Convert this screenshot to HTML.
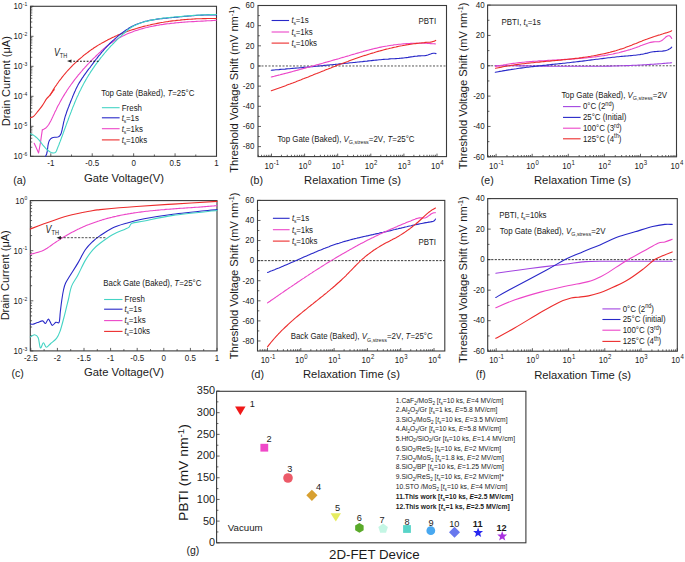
<!DOCTYPE html>
<html><head><meta charset="utf-8"><style>
html,body{margin:0;padding:0;background:#fff;}
svg{display:block;}
text{font-family:"Liberation Sans", sans-serif;fill:#1a1a1a;}
</style></head><body>
<svg width="685" height="562" viewBox="0 0 685 562">
<rect width="685" height="562" fill="#fff"/>
<rect x="30.5" y="6.3" width="186" height="150" fill="none" stroke="#3a3a3a" stroke-width="1.1"/>
<line x1="50.8" y1="156.3" x2="50.8" y2="153.3" stroke="#3a3a3a" stroke-width="0.8" />
<line x1="92.23" y1="156.3" x2="92.23" y2="153.3" stroke="#3a3a3a" stroke-width="0.8" />
<line x1="133.65" y1="156.3" x2="133.65" y2="153.3" stroke="#3a3a3a" stroke-width="0.8" />
<line x1="175.07" y1="156.3" x2="175.07" y2="153.3" stroke="#3a3a3a" stroke-width="0.8" />
<line x1="216.5" y1="156.3" x2="216.5" y2="153.3" stroke="#3a3a3a" stroke-width="0.8" />
<line x1="71.51" y1="156.3" x2="71.51" y2="154.5" stroke="#3a3a3a" stroke-width="0.8" />
<line x1="112.94" y1="156.3" x2="112.94" y2="154.5" stroke="#3a3a3a" stroke-width="0.8" />
<line x1="154.36" y1="156.3" x2="154.36" y2="154.5" stroke="#3a3a3a" stroke-width="0.8" />
<line x1="195.79" y1="156.3" x2="195.79" y2="154.5" stroke="#3a3a3a" stroke-width="0.8" />
<line x1="30.5" y1="156.3" x2="33.5" y2="156.3" stroke="#3a3a3a" stroke-width="0.8" />
<line x1="30.5" y1="126.3" x2="33.5" y2="126.3" stroke="#3a3a3a" stroke-width="0.8" />
<line x1="30.5" y1="96.3" x2="33.5" y2="96.3" stroke="#3a3a3a" stroke-width="0.8" />
<line x1="30.5" y1="66.3" x2="33.5" y2="66.3" stroke="#3a3a3a" stroke-width="0.8" />
<line x1="30.5" y1="36.3" x2="33.5" y2="36.3" stroke="#3a3a3a" stroke-width="0.8" />
<line x1="30.5" y1="6.3" x2="33.5" y2="6.3" stroke="#3a3a3a" stroke-width="0.8" />
<line x1="30.5" y1="147.27" x2="32.3" y2="147.27" stroke="#3a3a3a" stroke-width="0.8" />
<line x1="30.5" y1="141.99" x2="32.3" y2="141.99" stroke="#3a3a3a" stroke-width="0.8" />
<line x1="30.5" y1="138.24" x2="32.3" y2="138.24" stroke="#3a3a3a" stroke-width="0.8" />
<line x1="30.5" y1="135.33" x2="32.3" y2="135.33" stroke="#3a3a3a" stroke-width="0.8" />
<line x1="30.5" y1="132.96" x2="32.3" y2="132.96" stroke="#3a3a3a" stroke-width="0.8" />
<line x1="30.5" y1="130.95" x2="32.3" y2="130.95" stroke="#3a3a3a" stroke-width="0.8" />
<line x1="30.5" y1="129.21" x2="32.3" y2="129.21" stroke="#3a3a3a" stroke-width="0.8" />
<line x1="30.5" y1="127.67" x2="32.3" y2="127.67" stroke="#3a3a3a" stroke-width="0.8" />
<line x1="30.5" y1="117.27" x2="32.3" y2="117.27" stroke="#3a3a3a" stroke-width="0.8" />
<line x1="30.5" y1="111.99" x2="32.3" y2="111.99" stroke="#3a3a3a" stroke-width="0.8" />
<line x1="30.5" y1="108.24" x2="32.3" y2="108.24" stroke="#3a3a3a" stroke-width="0.8" />
<line x1="30.5" y1="105.33" x2="32.3" y2="105.33" stroke="#3a3a3a" stroke-width="0.8" />
<line x1="30.5" y1="102.96" x2="32.3" y2="102.96" stroke="#3a3a3a" stroke-width="0.8" />
<line x1="30.5" y1="100.95" x2="32.3" y2="100.95" stroke="#3a3a3a" stroke-width="0.8" />
<line x1="30.5" y1="99.21" x2="32.3" y2="99.21" stroke="#3a3a3a" stroke-width="0.8" />
<line x1="30.5" y1="97.67" x2="32.3" y2="97.67" stroke="#3a3a3a" stroke-width="0.8" />
<line x1="30.5" y1="87.27" x2="32.3" y2="87.27" stroke="#3a3a3a" stroke-width="0.8" />
<line x1="30.5" y1="81.99" x2="32.3" y2="81.99" stroke="#3a3a3a" stroke-width="0.8" />
<line x1="30.5" y1="78.24" x2="32.3" y2="78.24" stroke="#3a3a3a" stroke-width="0.8" />
<line x1="30.5" y1="75.33" x2="32.3" y2="75.33" stroke="#3a3a3a" stroke-width="0.8" />
<line x1="30.5" y1="72.96" x2="32.3" y2="72.96" stroke="#3a3a3a" stroke-width="0.8" />
<line x1="30.5" y1="70.95" x2="32.3" y2="70.95" stroke="#3a3a3a" stroke-width="0.8" />
<line x1="30.5" y1="69.21" x2="32.3" y2="69.21" stroke="#3a3a3a" stroke-width="0.8" />
<line x1="30.5" y1="67.67" x2="32.3" y2="67.67" stroke="#3a3a3a" stroke-width="0.8" />
<line x1="30.5" y1="57.27" x2="32.3" y2="57.27" stroke="#3a3a3a" stroke-width="0.8" />
<line x1="30.5" y1="51.99" x2="32.3" y2="51.99" stroke="#3a3a3a" stroke-width="0.8" />
<line x1="30.5" y1="48.24" x2="32.3" y2="48.24" stroke="#3a3a3a" stroke-width="0.8" />
<line x1="30.5" y1="45.33" x2="32.3" y2="45.33" stroke="#3a3a3a" stroke-width="0.8" />
<line x1="30.5" y1="42.96" x2="32.3" y2="42.96" stroke="#3a3a3a" stroke-width="0.8" />
<line x1="30.5" y1="40.95" x2="32.3" y2="40.95" stroke="#3a3a3a" stroke-width="0.8" />
<line x1="30.5" y1="39.21" x2="32.3" y2="39.21" stroke="#3a3a3a" stroke-width="0.8" />
<line x1="30.5" y1="37.67" x2="32.3" y2="37.67" stroke="#3a3a3a" stroke-width="0.8" />
<line x1="30.5" y1="27.27" x2="32.3" y2="27.27" stroke="#3a3a3a" stroke-width="0.8" />
<line x1="30.5" y1="21.99" x2="32.3" y2="21.99" stroke="#3a3a3a" stroke-width="0.8" />
<line x1="30.5" y1="18.24" x2="32.3" y2="18.24" stroke="#3a3a3a" stroke-width="0.8" />
<line x1="30.5" y1="15.33" x2="32.3" y2="15.33" stroke="#3a3a3a" stroke-width="0.8" />
<line x1="30.5" y1="12.96" x2="32.3" y2="12.96" stroke="#3a3a3a" stroke-width="0.8" />
<line x1="30.5" y1="10.95" x2="32.3" y2="10.95" stroke="#3a3a3a" stroke-width="0.8" />
<line x1="30.5" y1="9.21" x2="32.3" y2="9.21" stroke="#3a3a3a" stroke-width="0.8" />
<line x1="30.5" y1="7.67" x2="32.3" y2="7.67" stroke="#3a3a3a" stroke-width="0.8" />
<text transform="translate(50.8 165.8) scale(1 1.15)" font-size="8.0" text-anchor="middle" >-1</text>
<text transform="translate(92.23 165.8) scale(1 1.15)" font-size="8.0" text-anchor="middle" >-0.5</text>
<text transform="translate(133.65 165.8) scale(1 1.15)" font-size="8.0" text-anchor="middle" >0</text>
<text transform="translate(175.07 165.8) scale(1 1.15)" font-size="8.0" text-anchor="middle" >0.5</text>
<text transform="translate(216.5 165.8) scale(1 1.15)" font-size="8.0" text-anchor="middle" >1</text>
<text transform="translate(27.3 159.3) scale(1 1.15)" font-size="8.0" text-anchor="end" >10<tspan dy="-2.8" dx="0.4" font-size="5.0">-6</tspan></text>
<text transform="translate(27.3 129.3) scale(1 1.15)" font-size="8.0" text-anchor="end" >10<tspan dy="-2.8" dx="0.4" font-size="5.0">-5</tspan></text>
<text transform="translate(27.3 99.3) scale(1 1.15)" font-size="8.0" text-anchor="end" >10<tspan dy="-2.8" dx="0.4" font-size="5.0">-4</tspan></text>
<text transform="translate(27.3 69.3) scale(1 1.15)" font-size="8.0" text-anchor="end" >10<tspan dy="-2.8" dx="0.4" font-size="5.0">-3</tspan></text>
<text transform="translate(27.3 39.3) scale(1 1.15)" font-size="8.0" text-anchor="end" >10<tspan dy="-2.8" dx="0.4" font-size="5.0">-2</tspan></text>
<text transform="translate(27.3 9.3) scale(1 1.15)" font-size="8.0" text-anchor="end" >10<tspan dy="-2.8" dx="0.4" font-size="5.0">-1</tspan></text>
<text x="9.9" y="81.2" font-size="11" text-anchor="middle" transform="rotate(-90 9.9 81.2)">Drain Current (μA)</text>
<text x="84" y="181.6" font-size="11.25" text-anchor="start" >Gate Voltage(V)</text>
<text x="13.2" y="183.6" font-size="10.6" text-anchor="start" >(a)</text>
<path d="M30.5,117.6 C31.02,117.4 32.35,117.47 33.6,116.4 C34.85,115.33 36.55,113 38,111.2 C39.45,109.4 40.85,107.68 42.3,105.6 C43.75,103.52 45.42,100.43 46.7,98.7 C47.98,96.97 48.75,96.72 50,95.2 C51.25,93.68 53.5,90.53 54.2,89.6" fill="none" stroke="#ec2c2c" stroke-width="1.1" stroke-linejoin="round" stroke-linecap="round"/>
<path d="M50.0,95.3 L50.8,93.9 L51.6,92.6 L52.4,91.2 L53.2,89.9 L54.0,88.6 L54.8,87.3 L55.7,86.0 L56.6,84.8 L57.4,83.5 L58.3,82.3 L59.2,81.0 L60.1,79.8 L61.1,78.6 L62.0,77.4 L63.0,76.2 L63.9,75.0 L64.9,73.8 L65.9,72.7 L66.9,71.5 L67.9,70.4 L68.9,69.3 L70.0,68.2 L71.0,67.1 L72.1,66.0 L73.1,64.9 L74.2,63.9 L75.3,62.8 L76.4,61.8 L77.5,60.8 L78.6,59.7 L79.8,58.8 L80.9,57.8 L82.1,56.8 L83.2,55.8 L84.4,54.9 L85.6,54.0 L86.8,53.1 L88.0,52.2 L89.2,51.3 L90.4,50.4 L91.6,49.5 L92.9,48.7 L94.1,47.8 L95.4,47.0 L96.6,46.2 L97.9,45.4 L99.2,44.6 L100.5,43.9 L101.8,43.1 L103.1,42.4 L104.4,41.7 L105.7,41.0 L107.1,40.3 L108.4,39.6 L109.7,38.9 L111.1,38.2 L112.4,37.6 L113.8,37.0 L115.2,36.3 L116.6,35.7 L117.9,35.1 L119.3,34.5 L120.7,34.0 L122.1,33.4 L123.5,32.9 L125.0,32.3 L126.4,31.8 L127.8,31.3 L129.2,30.8 L130.7,30.3 L132.1,29.8 L133.6,29.4 L135.0,28.9 L136.5,28.5 L137.9,28.0 L139.4,27.6 L140.8,27.2 L142.3,26.8 L143.8,26.4 L145.3,26.0 L146.8,25.7 L148.2,25.3 L149.7,25.0 L151.2,24.6 L152.7,24.3 L154.2,24.0 L155.7,23.7 L157.2,23.4 L158.7,23.1 L160.2,22.8 L161.7,22.5 L163.3,22.3 L164.8,22.0 L166.3,21.8 L167.8,21.6 L169.3,21.3 L170.8,21.1 L172.4,20.9 L173.9,20.7 L175.4,20.6 L176.9,20.4 L178.4,20.2 L180.0,20.1 L181.5,19.9 L183.0,19.8 L184.5,19.6 L186.1,19.5 L187.6,19.4 L189.1,19.3 L190.6,19.2 L192.2,19.1 L193.7,19.0 L195.2,18.9 L196.7,18.8 L198.2,18.8 L199.8,18.7 L201.3,18.7 L202.8,18.6 L204.3,18.6 L205.8,18.6 L207.3,18.5 L208.8,18.5 L210.3,18.5 L211.8,18.5 L213.3,18.5 L214.8,18.5 L216.3,18.5" fill="none" stroke="#ec2c2c" stroke-width="1.1" stroke-linejoin="round" stroke-linecap="round"/>
<path d="M34.2,143.3 L38.6,152.9 L40.5,142.3 L42.3,129.9" fill="none" stroke="#ec46c8" stroke-width="1.1" stroke-linejoin="round" stroke-linecap="round"/>
<path d="M42.3,129.9 L43.7,129.3 L45.0,128.6 L46.1,127.7 L47.1,126.6 L48.0,125.5 L48.9,124.3 L49.6,123.0 L50.3,121.7 L51.0,120.4 L51.7,119.0 L52.3,117.7 L53.0,116.3 L53.6,114.9 L54.3,113.5 L54.9,112.1 L55.6,110.7 L56.3,109.4 L56.9,108.0 L57.6,106.6 L58.3,105.3 L59.1,103.9 L59.8,102.6 L60.5,101.2 L61.3,99.9 L62.0,98.6 L62.8,97.2 L63.6,95.9 L64.4,94.6 L65.2,93.3 L66.0,92.1 L66.8,90.8 L67.6,89.5 L68.5,88.2 L69.3,87.0 L70.2,85.8 L71.1,84.5 L72.0,83.3 L72.9,82.1 L73.8,80.9 L74.7,79.7 L75.6,78.5 L76.5,77.3 L77.5,76.1 L78.4,74.9 L79.4,73.8 L80.4,72.6 L81.4,71.5 L82.4,70.3 L83.3,69.2 L84.4,68.1 L85.4,66.9 L86.4,65.8 L87.4,64.7 L88.5,63.6 L89.5,62.5 L90.6,61.4 L91.6,60.3 L92.7,59.2 L93.8,58.1 L94.9,57.1 L96.0,56.0 L97.1,54.9 L98.2,53.9 L99.3,52.8 L100.4,51.8 L101.5,50.7 L102.7,49.7 L103.8,48.7 L105.0,47.7 L106.2,46.7 L107.4,45.8 L108.6,44.9 L109.8,43.9 L111.0,43.0 L112.3,42.2 L113.5,41.3 L114.8,40.5 L116.1,39.7 L117.4,38.9 L118.7,38.2 L120.0,37.4 L121.3,36.7 L122.7,36.0 L124.0,35.4 L125.4,34.7 L126.8,34.1 L128.1,33.5 L129.5,32.9 L130.9,32.4 L132.3,31.9 L133.8,31.3 L135.2,30.8 L136.6,30.4 L138.1,29.9 L139.5,29.5 L141.0,29.0 L142.4,28.6 L143.9,28.2 L145.4,27.8 L146.8,27.5 L148.3,27.1 L149.8,26.8 L151.3,26.5 L152.7,26.2 L154.2,25.9 L155.7,25.6 L157.2,25.3 L158.7,25.1 L160.2,24.8 L161.7,24.6 L163.2,24.4 L164.7,24.1 L166.2,23.9 L167.8,23.7 L169.3,23.6 L170.8,23.4 L172.3,23.2 L173.8,23.1 L175.3,22.9 L176.8,22.8 L178.4,22.6 L179.9,22.5 L181.4,22.4 L182.9,22.3 L184.5,22.1 L186.0,22.0 L187.5,21.9 L189.0,21.8 L190.6,21.7 L192.1,21.6 L193.6,21.6 L195.1,21.5 L196.6,21.4 L198.2,21.3 L199.7,21.2 L201.2,21.1 L202.7,21.1 L204.2,21.0 L205.8,20.9 L207.3,20.8 L208.8,20.7 L210.3,20.7 L211.8,20.6 L213.3,20.5 L214.8,20.4 L216.3,20.3" fill="none" stroke="#ec46c8" stroke-width="1.1" stroke-linejoin="round" stroke-linecap="round"/>
<path d="M45.4,156.3 L46.1,155.2 L46.6,154.0 L47.0,152.5 L47.3,151.0 L47.5,149.4 L47.7,147.7 L47.9,146.0 L48.2,144.3 L48.5,142.8 L49.0,141.3 L49.7,140.0 L50.6,138.9 L51.8,138.0 L53.1,137.5 L54.7,137.3 L56.3,137.2 L57.8,137.0 L59.0,136.5 L59.9,135.6 L60.7,134.4 L61.3,133.0 L61.7,131.4 L62.1,129.8 L62.4,128.2 L62.8,126.6 L63.1,125.1 L63.4,123.6 L63.7,122.1 L64.1,120.7 L64.4,119.3 L64.8,117.9 L65.2,116.4 L65.7,115.0 L66.2,113.6 L66.6,112.2 L67.1,110.8 L67.7,109.3 L68.2,107.9 L68.8,106.5 L69.3,105.0 L69.9,103.6 L70.4,102.2 L71.0,100.8 L71.6,99.4 L72.2,97.9 L72.7,96.5 L73.3,95.1 L73.9,93.7 L74.5,92.3 L75.1,91.0 L75.7,89.6 L76.3,88.2 L77.0,86.9 L77.7,85.6 L78.4,84.2 L79.2,82.9 L80.0,81.6 L80.8,80.4 L81.6,79.1 L82.4,77.8 L83.3,76.6 L84.1,75.3 L85.0,74.1 L85.9,72.9 L86.8,71.6 L87.7,70.4 L88.6,69.2 L89.6,68.0 L90.5,66.8 L91.4,65.5 L92.3,64.3 L93.2,63.1 L94.1,61.9 L95.0,60.7 L95.9,59.5 L96.9,58.3 L97.8,57.1 L98.7,55.9 L99.7,54.8 L100.7,53.6 L101.6,52.4 L102.6,51.3 L103.6,50.1 L104.6,49.0 L105.6,47.9 L106.6,46.8 L107.7,45.7 L108.7,44.6 L109.8,43.5 L110.9,42.5 L112.0,41.4 L113.1,40.4 L114.3,39.4 L115.4,38.4 L116.6,37.4 L117.7,36.4 L118.9,35.4 L120.1,34.4 L121.3,33.5 L122.5,32.6 L123.7,31.7 L125.0,30.8 L126.2,29.9 L127.5,29.1 L128.7,28.3 L130.0,27.5 L131.3,26.8 L132.7,26.1 L134.0,25.4 L135.4,24.8 L136.8,24.2 L138.1,23.7 L139.5,23.2 L141.0,22.7 L142.4,22.3 L143.8,21.8 L145.3,21.4 L146.8,21.1 L148.2,20.7 L149.7,20.4 L151.2,20.1 L152.7,19.9 L154.2,19.6 L155.7,19.4 L157.2,19.1 L158.8,18.9 L160.3,18.7 L161.8,18.6 L163.3,18.4 L164.9,18.2 L166.4,18.1 L167.9,17.9 L169.5,17.8 L171.0,17.6 L172.5,17.5 L174.0,17.4 L175.6,17.2 L177.1,17.1 L178.6,17.0 L180.1,16.8 L181.6,16.7 L183.1,16.5 L184.6,16.4 L186.1,16.3 L187.6,16.1 L189.1,16.0 L190.6,15.9 L192.1,15.7 L193.6,15.6 L195.1,15.5 L196.6,15.4 L198.1,15.3 L199.6,15.2 L201.1,15.1 L202.6,15.1 L204.1,15.0 L205.6,15.0 L207.1,14.9 L208.6,14.9 L210.1,14.9 L211.7,14.9 L213.2,14.9 L214.8,15.0 L216.3,15.0" fill="none" stroke="#2828c8" stroke-width="1.1" stroke-linejoin="round" stroke-linecap="round"/>
<path d="M30.5,133.8 L32.0,134.4 L33.3,135.1 L34.5,135.9 L35.6,136.7 L36.7,137.6 L37.7,138.6 L38.7,139.7 L39.7,140.9 L40.7,142.2 L41.7,143.5 L42.7,144.8 L43.8,146.1 L44.9,147.4 L46.0,148.6 L47.2,149.8 L48.5,150.8 L49.8,151.7 L51.2,152.4 L52.5,152.9 L53.7,153.0 L54.8,152.8 L55.7,152.1 L56.4,151.0 L56.9,149.7 L57.5,148.3 L58.0,146.9 L58.6,145.5 L59.1,144.2 L59.6,142.8 L60.2,141.4 L60.7,140.0 L61.2,138.6 L61.7,137.2 L62.3,135.8 L62.8,134.4 L63.3,132.9 L63.8,131.5 L64.3,130.1 L64.8,128.7 L65.4,127.3 L65.9,125.9 L66.4,124.4 L66.9,123.0 L67.4,121.6 L68.0,120.2 L68.5,118.8 L69.0,117.3 L69.5,115.9 L70.1,114.5 L70.6,113.1 L71.2,111.7 L71.7,110.2 L72.3,108.8 L72.8,107.4 L73.4,106.0 L74.0,104.6 L74.5,103.2 L75.1,101.8 L75.7,100.4 L76.3,99.0 L76.9,97.6 L77.5,96.3 L78.2,94.9 L78.8,93.5 L79.4,92.1 L80.1,90.8 L80.8,89.4 L81.4,88.1 L82.1,86.7 L82.8,85.4 L83.5,84.1 L84.2,82.7 L85.0,81.4 L85.7,80.1 L86.5,78.8 L87.2,77.5 L88.0,76.2 L88.8,74.9 L89.6,73.7 L90.4,72.4 L91.2,71.1 L92.1,69.9 L92.9,68.6 L93.8,67.4 L94.6,66.1 L95.5,64.9 L96.4,63.7 L97.3,62.5 L98.2,61.3 L99.1,60.1 L100.0,58.9 L100.9,57.7 L101.9,56.5 L102.8,55.3 L103.8,54.2 L104.7,53.0 L105.7,51.9 L106.7,50.7 L107.7,49.6 L108.7,48.5 L109.7,47.4 L110.7,46.2 L111.8,45.1 L112.8,44.0 L113.9,43.0 L114.9,41.9 L116.0,40.8 L117.1,39.7 L118.1,38.7 L119.2,37.6 L120.3,36.6 L121.4,35.6 L122.5,34.5 L123.7,33.5 L124.8,32.5 L125.9,31.5 L127.1,30.6 L128.2,29.6 L129.4,28.7 L130.7,27.8 L131.9,27.0 L133.2,26.3 L134.5,25.6 L135.9,24.9 L137.2,24.3 L138.6,23.8 L140.0,23.2 L141.5,22.7 L142.9,22.3 L144.4,21.8 L145.8,21.4 L147.3,21.1 L148.7,20.7 L150.2,20.4 L151.7,20.1 L153.2,19.8 L154.7,19.5 L156.1,19.2 L157.6,19.0 L159.1,18.7 L160.6,18.5 L162.1,18.3 L163.6,18.1 L165.1,18.0 L166.6,17.8 L168.1,17.6 L169.6,17.5 L171.1,17.3 L172.6,17.2 L174.1,17.0 L175.7,16.9 L177.2,16.8 L178.7,16.6 L180.2,16.5 L181.7,16.4 L183.2,16.2 L184.7,16.1 L186.2,16.0 L187.7,15.9 L189.2,15.8 L190.7,15.6 L192.2,15.5 L193.7,15.4 L195.2,15.3 L196.7,15.2 L198.2,15.1 L199.7,15.1 L201.2,15.0 L202.7,14.9 L204.2,14.8 L205.7,14.8 L207.2,14.7 L208.7,14.7 L210.3,14.6 L211.8,14.6 L213.3,14.5 L214.8,14.5 L216.3,14.5" fill="none" stroke="#44d4c4" stroke-width="1.1" stroke-linejoin="round" stroke-linecap="round"/>
<text transform="translate(101.2 96) scale(1 1.15)" font-size="7.9" text-anchor="start" >Top Gate (Baked), <tspan font-style="italic">T</tspan>=25°C</text>
<line x1="101.9" y1="107.7" x2="119.6" y2="107.7" stroke="#44d4c4" stroke-width="1.1" />
<text transform="translate(121.8 110.5) scale(1 1.15)" font-size="7.9" text-anchor="start" >Fresh</text>
<line x1="101.9" y1="117.8" x2="119.6" y2="117.8" stroke="#2828c8" stroke-width="1.1" />
<text transform="translate(121.8 120.6) scale(1 1.15)" font-size="7.9" text-anchor="start" ><tspan font-style="italic">t</tspan><tspan dy="1.74" font-size="4.9" dx="-0.3">s</tspan><tspan dy="-1.74" dx="-0.2">=1s</tspan></text>
<line x1="101.9" y1="128.7" x2="119.6" y2="128.7" stroke="#ec46c8" stroke-width="1.1" />
<text transform="translate(121.8 131.5) scale(1 1.15)" font-size="7.9" text-anchor="start" ><tspan font-style="italic">t</tspan><tspan dy="1.74" font-size="4.9" dx="-0.3">s</tspan><tspan dy="-1.74" dx="-0.2">=1ks</tspan></text>
<line x1="101.9" y1="139.9" x2="119.6" y2="139.9" stroke="#ec2c2c" stroke-width="1.1" />
<text transform="translate(121.8 142.7) scale(1 1.15)" font-size="7.9" text-anchor="start" ><tspan font-style="italic">t</tspan><tspan dy="1.74" font-size="4.9" dx="-0.3">s</tspan><tspan dy="-1.74" dx="-0.2">=10ks</tspan></text>
<text transform="translate(53.9 55.5) scale(1 1.15)" font-size="7.9" text-anchor="start" ><tspan font-style="italic" font-size="8.8">V</tspan><tspan dy="1.8" font-size="5.6">TH</tspan></text>
<line x1="73.3" y1="61.3" x2="99.4" y2="61.3" stroke="#111" stroke-width="1.1" stroke-dasharray="1.8,1.55"/>
<path d="M67,61.1 L71.5,59.5 L71.5,62.7 Z" fill="#222"/>
<rect x="258" y="5.5" width="188.5" height="151.1" fill="none" stroke="#3a3a3a" stroke-width="1.1"/>
<line x1="271.5" y1="156.6" x2="271.5" y2="153.6" stroke="#3a3a3a" stroke-width="0.8" />
<line x1="304.6" y1="156.6" x2="304.6" y2="153.6" stroke="#3a3a3a" stroke-width="0.8" />
<line x1="337.7" y1="156.6" x2="337.7" y2="153.6" stroke="#3a3a3a" stroke-width="0.8" />
<line x1="370.8" y1="156.6" x2="370.8" y2="153.6" stroke="#3a3a3a" stroke-width="0.8" />
<line x1="403.9" y1="156.6" x2="403.9" y2="153.6" stroke="#3a3a3a" stroke-width="0.8" />
<line x1="437" y1="156.6" x2="437" y2="153.6" stroke="#3a3a3a" stroke-width="0.8" />
<line x1="258.33" y1="156.6" x2="258.33" y2="154.8" stroke="#3a3a3a" stroke-width="0.8" />
<line x1="261.54" y1="156.6" x2="261.54" y2="154.8" stroke="#3a3a3a" stroke-width="0.8" />
<line x1="264.16" y1="156.6" x2="264.16" y2="154.8" stroke="#3a3a3a" stroke-width="0.8" />
<line x1="266.37" y1="156.6" x2="266.37" y2="154.8" stroke="#3a3a3a" stroke-width="0.8" />
<line x1="268.29" y1="156.6" x2="268.29" y2="154.8" stroke="#3a3a3a" stroke-width="0.8" />
<line x1="269.99" y1="156.6" x2="269.99" y2="154.8" stroke="#3a3a3a" stroke-width="0.8" />
<line x1="281.46" y1="156.6" x2="281.46" y2="154.8" stroke="#3a3a3a" stroke-width="0.8" />
<line x1="287.29" y1="156.6" x2="287.29" y2="154.8" stroke="#3a3a3a" stroke-width="0.8" />
<line x1="291.43" y1="156.6" x2="291.43" y2="154.8" stroke="#3a3a3a" stroke-width="0.8" />
<line x1="294.64" y1="156.6" x2="294.64" y2="154.8" stroke="#3a3a3a" stroke-width="0.8" />
<line x1="297.26" y1="156.6" x2="297.26" y2="154.8" stroke="#3a3a3a" stroke-width="0.8" />
<line x1="299.47" y1="156.6" x2="299.47" y2="154.8" stroke="#3a3a3a" stroke-width="0.8" />
<line x1="301.39" y1="156.6" x2="301.39" y2="154.8" stroke="#3a3a3a" stroke-width="0.8" />
<line x1="303.09" y1="156.6" x2="303.09" y2="154.8" stroke="#3a3a3a" stroke-width="0.8" />
<line x1="314.56" y1="156.6" x2="314.56" y2="154.8" stroke="#3a3a3a" stroke-width="0.8" />
<line x1="320.39" y1="156.6" x2="320.39" y2="154.8" stroke="#3a3a3a" stroke-width="0.8" />
<line x1="324.53" y1="156.6" x2="324.53" y2="154.8" stroke="#3a3a3a" stroke-width="0.8" />
<line x1="327.74" y1="156.6" x2="327.74" y2="154.8" stroke="#3a3a3a" stroke-width="0.8" />
<line x1="330.36" y1="156.6" x2="330.36" y2="154.8" stroke="#3a3a3a" stroke-width="0.8" />
<line x1="332.57" y1="156.6" x2="332.57" y2="154.8" stroke="#3a3a3a" stroke-width="0.8" />
<line x1="334.49" y1="156.6" x2="334.49" y2="154.8" stroke="#3a3a3a" stroke-width="0.8" />
<line x1="336.19" y1="156.6" x2="336.19" y2="154.8" stroke="#3a3a3a" stroke-width="0.8" />
<line x1="347.66" y1="156.6" x2="347.66" y2="154.8" stroke="#3a3a3a" stroke-width="0.8" />
<line x1="353.49" y1="156.6" x2="353.49" y2="154.8" stroke="#3a3a3a" stroke-width="0.8" />
<line x1="357.63" y1="156.6" x2="357.63" y2="154.8" stroke="#3a3a3a" stroke-width="0.8" />
<line x1="360.84" y1="156.6" x2="360.84" y2="154.8" stroke="#3a3a3a" stroke-width="0.8" />
<line x1="363.46" y1="156.6" x2="363.46" y2="154.8" stroke="#3a3a3a" stroke-width="0.8" />
<line x1="365.67" y1="156.6" x2="365.67" y2="154.8" stroke="#3a3a3a" stroke-width="0.8" />
<line x1="367.59" y1="156.6" x2="367.59" y2="154.8" stroke="#3a3a3a" stroke-width="0.8" />
<line x1="369.29" y1="156.6" x2="369.29" y2="154.8" stroke="#3a3a3a" stroke-width="0.8" />
<line x1="380.76" y1="156.6" x2="380.76" y2="154.8" stroke="#3a3a3a" stroke-width="0.8" />
<line x1="386.59" y1="156.6" x2="386.59" y2="154.8" stroke="#3a3a3a" stroke-width="0.8" />
<line x1="390.73" y1="156.6" x2="390.73" y2="154.8" stroke="#3a3a3a" stroke-width="0.8" />
<line x1="393.94" y1="156.6" x2="393.94" y2="154.8" stroke="#3a3a3a" stroke-width="0.8" />
<line x1="396.56" y1="156.6" x2="396.56" y2="154.8" stroke="#3a3a3a" stroke-width="0.8" />
<line x1="398.77" y1="156.6" x2="398.77" y2="154.8" stroke="#3a3a3a" stroke-width="0.8" />
<line x1="400.69" y1="156.6" x2="400.69" y2="154.8" stroke="#3a3a3a" stroke-width="0.8" />
<line x1="402.39" y1="156.6" x2="402.39" y2="154.8" stroke="#3a3a3a" stroke-width="0.8" />
<line x1="413.86" y1="156.6" x2="413.86" y2="154.8" stroke="#3a3a3a" stroke-width="0.8" />
<line x1="419.69" y1="156.6" x2="419.69" y2="154.8" stroke="#3a3a3a" stroke-width="0.8" />
<line x1="423.83" y1="156.6" x2="423.83" y2="154.8" stroke="#3a3a3a" stroke-width="0.8" />
<line x1="427.04" y1="156.6" x2="427.04" y2="154.8" stroke="#3a3a3a" stroke-width="0.8" />
<line x1="429.66" y1="156.6" x2="429.66" y2="154.8" stroke="#3a3a3a" stroke-width="0.8" />
<line x1="431.87" y1="156.6" x2="431.87" y2="154.8" stroke="#3a3a3a" stroke-width="0.8" />
<line x1="433.79" y1="156.6" x2="433.79" y2="154.8" stroke="#3a3a3a" stroke-width="0.8" />
<line x1="435.49" y1="156.6" x2="435.49" y2="154.8" stroke="#3a3a3a" stroke-width="0.8" />
<line x1="258" y1="146.62" x2="261" y2="146.62" stroke="#3a3a3a" stroke-width="0.8" />
<line x1="258" y1="126.46" x2="261" y2="126.46" stroke="#3a3a3a" stroke-width="0.8" />
<line x1="258" y1="106.3" x2="261" y2="106.3" stroke="#3a3a3a" stroke-width="0.8" />
<line x1="258" y1="86.14" x2="261" y2="86.14" stroke="#3a3a3a" stroke-width="0.8" />
<line x1="258" y1="65.98" x2="261" y2="65.98" stroke="#3a3a3a" stroke-width="0.8" />
<line x1="258" y1="45.82" x2="261" y2="45.82" stroke="#3a3a3a" stroke-width="0.8" />
<line x1="258" y1="25.66" x2="261" y2="25.66" stroke="#3a3a3a" stroke-width="0.8" />
<line x1="258" y1="5.5" x2="261" y2="5.5" stroke="#3a3a3a" stroke-width="0.8" />
<line x1="258" y1="136.54" x2="259.8" y2="136.54" stroke="#3a3a3a" stroke-width="0.8" />
<line x1="258" y1="116.38" x2="259.8" y2="116.38" stroke="#3a3a3a" stroke-width="0.8" />
<line x1="258" y1="96.22" x2="259.8" y2="96.22" stroke="#3a3a3a" stroke-width="0.8" />
<line x1="258" y1="76.06" x2="259.8" y2="76.06" stroke="#3a3a3a" stroke-width="0.8" />
<line x1="258" y1="55.9" x2="259.8" y2="55.9" stroke="#3a3a3a" stroke-width="0.8" />
<line x1="258" y1="35.74" x2="259.8" y2="35.74" stroke="#3a3a3a" stroke-width="0.8" />
<line x1="258" y1="15.58" x2="259.8" y2="15.58" stroke="#3a3a3a" stroke-width="0.8" />
<text transform="translate(254.4 149.42) scale(1 1.15)" font-size="8.0" text-anchor="end" >-80</text>
<text transform="translate(254.4 129.26) scale(1 1.15)" font-size="8.0" text-anchor="end" >-60</text>
<text transform="translate(254.4 109.1) scale(1 1.15)" font-size="8.0" text-anchor="end" >-40</text>
<text transform="translate(254.4 88.94) scale(1 1.15)" font-size="8.0" text-anchor="end" >-20</text>
<text transform="translate(254.4 68.78) scale(1 1.15)" font-size="8.0" text-anchor="end" >0</text>
<text transform="translate(254.4 48.62) scale(1 1.15)" font-size="8.0" text-anchor="end" >20</text>
<text transform="translate(254.4 28.46) scale(1 1.15)" font-size="8.0" text-anchor="end" >40</text>
<text transform="translate(254.4 8.3) scale(1 1.15)" font-size="8.0" text-anchor="end" >60</text>
<text transform="translate(271.8 168.5) scale(1 1.15)" font-size="8.0" text-anchor="middle" >10<tspan dy="-3.4" dx="0.5" font-size="6.0">-1</tspan></text>
<text transform="translate(304.9 168.5) scale(1 1.15)" font-size="8.0" text-anchor="middle" >10<tspan dy="-3.4" dx="0.5" font-size="6.0">0</tspan></text>
<text transform="translate(338 168.5) scale(1 1.15)" font-size="8.0" text-anchor="middle" >10<tspan dy="-3.4" dx="0.5" font-size="6.0">1</tspan></text>
<text transform="translate(371.1 168.5) scale(1 1.15)" font-size="8.0" text-anchor="middle" >10<tspan dy="-3.4" dx="0.5" font-size="6.0">2</tspan></text>
<text transform="translate(404.2 168.5) scale(1 1.15)" font-size="8.0" text-anchor="middle" >10<tspan dy="-3.4" dx="0.5" font-size="6.0">3</tspan></text>
<text transform="translate(437.3 168.5) scale(1 1.15)" font-size="8.0" text-anchor="middle" >10<tspan dy="-3.4" dx="0.5" font-size="6.0">4</tspan></text>
<line x1="258" y1="65.98" x2="446.5" y2="65.98" stroke="#555" stroke-width="1.0" stroke-dasharray="2,1.5"/>
<text x="237.8" y="89.4" font-size="11.1" text-anchor="middle" transform="rotate(-90 237.8 89.4)">Threshold Voltage Shift (mV nm<tspan dy="-4" font-size="7.2">-1</tspan><tspan dy="4">)</tspan></text>
<text x="304.1" y="184.2" font-size="11.25" text-anchor="start" >Relaxation Time (s)</text>
<text x="250" y="183.8" font-size="10.6" text-anchor="start" >(b)</text>
<text transform="translate(418.6 24.2) scale(1 1.15)" font-size="7.9" text-anchor="start" >PBTI</text>
<text transform="translate(277.4 141.5) scale(1 1.15)" font-size="7.9" text-anchor="start" >Top Gate (Baked), <tspan font-style="italic">V</tspan><tspan dy="1.98" font-size="5.37">G,stress</tspan><tspan dy="-1.98">=2V</tspan>, <tspan font-style="italic">T</tspan>=25°C</text>
<line x1="271.6" y1="20.5" x2="289.1" y2="20.5" stroke="#2828c8" stroke-width="1.1" />
<text transform="translate(291.6 23.3) scale(1 1.15)" font-size="7.9" text-anchor="start" ><tspan font-style="italic">t</tspan><tspan dy="1.74" font-size="4.9" dx="-0.3">s</tspan><tspan dy="-1.74" dx="-0.2">=1s</tspan></text>
<line x1="271.6" y1="32" x2="289.1" y2="32" stroke="#ec46c8" stroke-width="1.1" />
<text transform="translate(291.6 34.8) scale(1 1.15)" font-size="7.9" text-anchor="start" ><tspan font-style="italic">t</tspan><tspan dy="1.74" font-size="4.9" dx="-0.3">s</tspan><tspan dy="-1.74" dx="-0.2">=1ks</tspan></text>
<line x1="271.6" y1="43.1" x2="289.1" y2="43.1" stroke="#ec2c2c" stroke-width="1.1" />
<text transform="translate(291.6 45.9) scale(1 1.15)" font-size="7.9" text-anchor="start" ><tspan font-style="italic">t</tspan><tspan dy="1.74" font-size="4.9" dx="-0.3">s</tspan><tspan dy="-1.74" dx="-0.2">=10ks</tspan></text>
<path d="M271.3,70.2 L272.8,70.1 L274.3,70.0 L275.9,69.8 L277.4,69.7 L278.9,69.6 L280.4,69.4 L281.9,69.3 L283.5,69.2 L285.0,69.1 L286.5,68.9 L288.0,68.8 L289.6,68.7 L291.1,68.5 L292.6,68.4 L294.1,68.3 L295.6,68.1 L297.2,68.0 L298.7,67.9 L300.2,67.7 L301.7,67.6 L303.2,67.4 L304.8,67.3 L306.3,67.2 L307.8,67.0 L309.3,66.9 L310.8,66.7 L312.4,66.6 L313.9,66.5 L315.4,66.3 L316.9,66.2 L318.4,66.0 L320.0,65.9 L321.5,65.7 L323.0,65.6 L324.5,65.4 L326.0,65.3 L327.5,65.1 L329.1,65.0 L330.6,64.8 L332.1,64.7 L333.6,64.5 L335.1,64.4 L336.7,64.2 L338.2,64.1 L339.7,63.9 L341.2,63.8 L342.7,63.6 L344.3,63.5 L345.8,63.3 L347.3,63.2 L348.8,63.0 L350.3,62.8 L351.8,62.7 L353.4,62.5 L354.9,62.4 L356.4,62.2 L357.9,62.0 L359.4,61.9 L360.9,61.7 L362.5,61.6 L364.0,61.4 L365.5,61.2 L367.0,61.1 L368.5,60.9 L370.1,60.8 L371.6,60.6 L373.1,60.4 L374.6,60.3 L376.1,60.1 L377.6,60.0 L379.2,59.8 L380.7,59.7 L382.2,59.5 L383.7,59.4 L385.2,59.3 L386.8,59.2 L388.3,59.1 L389.8,58.9 L391.3,58.8 L392.9,58.7 L394.4,58.7 L395.9,58.6 L397.4,58.5 L399.0,58.4 L400.5,58.2 L402.0,58.1 L403.5,58.0 L405.0,57.8 L406.5,57.6 L408.0,57.4 L409.5,57.1 L411.1,56.9 L412.6,56.7 L414.1,56.4 L415.6,56.2 L417.1,56.1 L418.6,55.9 L420.2,55.9 L421.7,55.8 L423.3,55.7 L424.8,55.6 L426.3,55.4 L427.8,55.0 L429.2,54.5 L430.6,54.0 L431.9,53.5 L433.3,53.2 L434.6,53.2 L436.0,53.6" fill="none" stroke="#2828c8" stroke-width="1.1" stroke-linejoin="round" stroke-linecap="round"/>
<path d="M271.3,77.0 L272.8,76.6 L274.2,76.3 L275.7,75.9 L277.2,75.5 L278.7,75.1 L280.1,74.8 L281.6,74.4 L283.1,74.0 L284.5,73.6 L286.0,73.2 L287.5,72.9 L288.9,72.5 L290.4,72.1 L291.9,71.7 L293.3,71.3 L294.8,70.9 L296.3,70.5 L297.7,70.1 L299.2,69.7 L300.6,69.3 L302.1,68.9 L303.6,68.5 L305.0,68.1 L306.5,67.7 L308.0,67.3 L309.4,66.9 L310.9,66.5 L312.4,66.1 L313.8,65.7 L315.3,65.3 L316.7,64.9 L318.2,64.5 L319.7,64.1 L321.1,63.7 L322.6,63.3 L324.0,62.8 L325.5,62.4 L327.0,62.0 L328.4,61.6 L329.9,61.2 L331.3,60.8 L332.8,60.3 L334.2,59.9 L335.7,59.5 L337.2,59.1 L338.6,58.7 L340.1,58.2 L341.5,57.8 L343.0,57.4 L344.4,57.0 L345.9,56.5 L347.4,56.1 L348.8,55.7 L350.3,55.2 L351.7,54.8 L353.2,54.4 L354.6,54.0 L356.1,53.5 L357.6,53.1 L359.0,52.7 L360.5,52.3 L361.9,51.9 L363.4,51.4 L364.9,51.0 L366.3,50.6 L367.8,50.2 L369.2,49.9 L370.7,49.5 L372.2,49.1 L373.6,48.7 L375.1,48.4 L376.6,48.1 L378.1,47.7 L379.5,47.4 L381.0,47.1 L382.5,46.8 L384.0,46.5 L385.5,46.2 L387.0,46.0 L388.5,45.7 L390.0,45.5 L391.4,45.3 L392.9,45.1 L394.4,44.8 L395.9,44.7 L397.4,44.5 L398.9,44.3 L400.5,44.2 L402.0,44.0 L403.5,43.9 L405.0,43.8 L406.5,43.6 L408.0,43.6 L409.5,43.5 L411.0,43.4 L412.5,43.3 L414.0,43.3 L415.6,43.3 L417.1,43.2 L418.6,43.2 L420.1,43.2 L421.6,43.2 L423.1,43.3 L424.7,43.3 L426.2,43.3 L427.7,43.4 L429.2,43.5 L430.7,43.6 L432.3,43.7 L433.8,43.8 L435.3,43.9" fill="none" stroke="#ec46c8" stroke-width="1.1" stroke-linejoin="round" stroke-linecap="round"/>
<path d="M271.3,90.8 L272.7,90.3 L274.2,89.8 L275.6,89.3 L277.0,88.8 L278.5,88.3 L279.9,87.8 L281.3,87.3 L282.7,86.7 L284.2,86.2 L285.6,85.7 L287.0,85.1 L288.4,84.6 L289.9,84.1 L291.3,83.5 L292.7,83.0 L294.1,82.4 L295.5,81.9 L296.9,81.3 L298.4,80.8 L299.8,80.2 L301.2,79.7 L302.6,79.1 L304.0,78.6 L305.4,78.0 L306.8,77.4 L308.3,76.9 L309.7,76.3 L311.1,75.7 L312.5,75.2 L313.9,74.6 L315.3,74.0 L316.7,73.5 L318.1,72.9 L319.5,72.4 L321.0,71.8 L322.4,71.2 L323.8,70.7 L325.2,70.1 L326.6,69.5 L328.0,69.0 L329.4,68.4 L330.8,67.9 L332.3,67.3 L333.7,66.7 L335.1,66.2 L336.5,65.6 L337.9,65.1 L339.3,64.6 L340.8,64.0 L342.2,63.5 L343.6,62.9 L345.0,62.4 L346.4,61.9 L347.9,61.4 L349.3,60.8 L350.7,60.3 L352.2,59.8 L353.6,59.3 L355.0,58.8 L356.4,58.3 L357.9,57.8 L359.3,57.3 L360.7,56.8 L362.2,56.3 L363.6,55.8 L365.1,55.4 L366.5,54.9 L368.0,54.4 L369.4,54.0 L370.9,53.5 L372.3,53.1 L373.8,52.7 L375.2,52.2 L376.7,51.8 L378.1,51.4 L379.6,51.0 L381.1,50.6 L382.5,50.2 L384.0,49.8 L385.5,49.4 L386.9,49.0 L388.4,48.7 L389.9,48.3 L391.4,48.0 L392.9,47.6 L394.4,47.3 L395.9,47.0 L397.3,46.6 L398.8,46.3 L400.3,46.0 L401.8,45.8 L403.3,45.5 L404.8,45.2 L406.3,44.9 L407.8,44.7 L409.3,44.4 L410.8,44.2 L412.3,44.0 L413.8,43.8 L415.3,43.6 L416.9,43.4 L418.4,43.2 L419.9,43.0 L421.4,42.9 L422.8,42.7 L424.3,42.6 L425.8,42.4 L427.3,42.3 L428.8,42.2 L430.3,42.1 L431.7,41.9 L433.1,41.5 L434.5,41.1 L435.7,40.4" fill="none" stroke="#ec2c2c" stroke-width="1.1" stroke-linejoin="round" stroke-linecap="round"/>
<rect x="487.6" y="5.1" width="188.9" height="151.7" fill="none" stroke="#3a3a3a" stroke-width="1.1"/>
<line x1="496.1" y1="156.8" x2="496.1" y2="153.8" stroke="#3a3a3a" stroke-width="0.8" />
<line x1="532.2" y1="156.8" x2="532.2" y2="153.8" stroke="#3a3a3a" stroke-width="0.8" />
<line x1="568.3" y1="156.8" x2="568.3" y2="153.8" stroke="#3a3a3a" stroke-width="0.8" />
<line x1="604.4" y1="156.8" x2="604.4" y2="153.8" stroke="#3a3a3a" stroke-width="0.8" />
<line x1="640.5" y1="156.8" x2="640.5" y2="153.8" stroke="#3a3a3a" stroke-width="0.8" />
<line x1="676.6" y1="156.8" x2="676.6" y2="153.8" stroke="#3a3a3a" stroke-width="0.8" />
<line x1="488.09" y1="156.8" x2="488.09" y2="155" stroke="#3a3a3a" stroke-width="0.8" />
<line x1="490.51" y1="156.8" x2="490.51" y2="155" stroke="#3a3a3a" stroke-width="0.8" />
<line x1="492.6" y1="156.8" x2="492.6" y2="155" stroke="#3a3a3a" stroke-width="0.8" />
<line x1="494.45" y1="156.8" x2="494.45" y2="155" stroke="#3a3a3a" stroke-width="0.8" />
<line x1="506.97" y1="156.8" x2="506.97" y2="155" stroke="#3a3a3a" stroke-width="0.8" />
<line x1="513.32" y1="156.8" x2="513.32" y2="155" stroke="#3a3a3a" stroke-width="0.8" />
<line x1="517.83" y1="156.8" x2="517.83" y2="155" stroke="#3a3a3a" stroke-width="0.8" />
<line x1="521.33" y1="156.8" x2="521.33" y2="155" stroke="#3a3a3a" stroke-width="0.8" />
<line x1="524.19" y1="156.8" x2="524.19" y2="155" stroke="#3a3a3a" stroke-width="0.8" />
<line x1="526.61" y1="156.8" x2="526.61" y2="155" stroke="#3a3a3a" stroke-width="0.8" />
<line x1="528.7" y1="156.8" x2="528.7" y2="155" stroke="#3a3a3a" stroke-width="0.8" />
<line x1="530.55" y1="156.8" x2="530.55" y2="155" stroke="#3a3a3a" stroke-width="0.8" />
<line x1="543.07" y1="156.8" x2="543.07" y2="155" stroke="#3a3a3a" stroke-width="0.8" />
<line x1="549.42" y1="156.8" x2="549.42" y2="155" stroke="#3a3a3a" stroke-width="0.8" />
<line x1="553.93" y1="156.8" x2="553.93" y2="155" stroke="#3a3a3a" stroke-width="0.8" />
<line x1="557.43" y1="156.8" x2="557.43" y2="155" stroke="#3a3a3a" stroke-width="0.8" />
<line x1="560.29" y1="156.8" x2="560.29" y2="155" stroke="#3a3a3a" stroke-width="0.8" />
<line x1="562.71" y1="156.8" x2="562.71" y2="155" stroke="#3a3a3a" stroke-width="0.8" />
<line x1="564.8" y1="156.8" x2="564.8" y2="155" stroke="#3a3a3a" stroke-width="0.8" />
<line x1="566.65" y1="156.8" x2="566.65" y2="155" stroke="#3a3a3a" stroke-width="0.8" />
<line x1="579.17" y1="156.8" x2="579.17" y2="155" stroke="#3a3a3a" stroke-width="0.8" />
<line x1="585.52" y1="156.8" x2="585.52" y2="155" stroke="#3a3a3a" stroke-width="0.8" />
<line x1="590.03" y1="156.8" x2="590.03" y2="155" stroke="#3a3a3a" stroke-width="0.8" />
<line x1="593.53" y1="156.8" x2="593.53" y2="155" stroke="#3a3a3a" stroke-width="0.8" />
<line x1="596.39" y1="156.8" x2="596.39" y2="155" stroke="#3a3a3a" stroke-width="0.8" />
<line x1="598.81" y1="156.8" x2="598.81" y2="155" stroke="#3a3a3a" stroke-width="0.8" />
<line x1="600.9" y1="156.8" x2="600.9" y2="155" stroke="#3a3a3a" stroke-width="0.8" />
<line x1="602.75" y1="156.8" x2="602.75" y2="155" stroke="#3a3a3a" stroke-width="0.8" />
<line x1="615.27" y1="156.8" x2="615.27" y2="155" stroke="#3a3a3a" stroke-width="0.8" />
<line x1="621.62" y1="156.8" x2="621.62" y2="155" stroke="#3a3a3a" stroke-width="0.8" />
<line x1="626.13" y1="156.8" x2="626.13" y2="155" stroke="#3a3a3a" stroke-width="0.8" />
<line x1="629.63" y1="156.8" x2="629.63" y2="155" stroke="#3a3a3a" stroke-width="0.8" />
<line x1="632.49" y1="156.8" x2="632.49" y2="155" stroke="#3a3a3a" stroke-width="0.8" />
<line x1="634.91" y1="156.8" x2="634.91" y2="155" stroke="#3a3a3a" stroke-width="0.8" />
<line x1="637" y1="156.8" x2="637" y2="155" stroke="#3a3a3a" stroke-width="0.8" />
<line x1="638.85" y1="156.8" x2="638.85" y2="155" stroke="#3a3a3a" stroke-width="0.8" />
<line x1="651.37" y1="156.8" x2="651.37" y2="155" stroke="#3a3a3a" stroke-width="0.8" />
<line x1="657.72" y1="156.8" x2="657.72" y2="155" stroke="#3a3a3a" stroke-width="0.8" />
<line x1="662.23" y1="156.8" x2="662.23" y2="155" stroke="#3a3a3a" stroke-width="0.8" />
<line x1="665.73" y1="156.8" x2="665.73" y2="155" stroke="#3a3a3a" stroke-width="0.8" />
<line x1="668.59" y1="156.8" x2="668.59" y2="155" stroke="#3a3a3a" stroke-width="0.8" />
<line x1="671.01" y1="156.8" x2="671.01" y2="155" stroke="#3a3a3a" stroke-width="0.8" />
<line x1="673.1" y1="156.8" x2="673.1" y2="155" stroke="#3a3a3a" stroke-width="0.8" />
<line x1="674.95" y1="156.8" x2="674.95" y2="155" stroke="#3a3a3a" stroke-width="0.8" />
<line x1="487.6" y1="156.8" x2="490.6" y2="156.8" stroke="#3a3a3a" stroke-width="0.8" />
<line x1="487.6" y1="126.46" x2="490.6" y2="126.46" stroke="#3a3a3a" stroke-width="0.8" />
<line x1="487.6" y1="96.12" x2="490.6" y2="96.12" stroke="#3a3a3a" stroke-width="0.8" />
<line x1="487.6" y1="65.78" x2="490.6" y2="65.78" stroke="#3a3a3a" stroke-width="0.8" />
<line x1="487.6" y1="35.44" x2="490.6" y2="35.44" stroke="#3a3a3a" stroke-width="0.8" />
<line x1="487.6" y1="5.1" x2="490.6" y2="5.1" stroke="#3a3a3a" stroke-width="0.8" />
<line x1="487.6" y1="141.63" x2="489.4" y2="141.63" stroke="#3a3a3a" stroke-width="0.8" />
<line x1="487.6" y1="111.29" x2="489.4" y2="111.29" stroke="#3a3a3a" stroke-width="0.8" />
<line x1="487.6" y1="80.95" x2="489.4" y2="80.95" stroke="#3a3a3a" stroke-width="0.8" />
<line x1="487.6" y1="50.61" x2="489.4" y2="50.61" stroke="#3a3a3a" stroke-width="0.8" />
<line x1="487.6" y1="20.27" x2="489.4" y2="20.27" stroke="#3a3a3a" stroke-width="0.8" />
<text transform="translate(484.7 159.6) scale(1 1.15)" font-size="8.0" text-anchor="end" >-60</text>
<text transform="translate(484.7 129.26) scale(1 1.15)" font-size="8.0" text-anchor="end" >-40</text>
<text transform="translate(484.7 98.92) scale(1 1.15)" font-size="8.0" text-anchor="end" >-20</text>
<text transform="translate(484.7 68.58) scale(1 1.15)" font-size="8.0" text-anchor="end" >0</text>
<text transform="translate(484.7 38.24) scale(1 1.15)" font-size="8.0" text-anchor="end" >20</text>
<text transform="translate(484.7 7.9) scale(1 1.15)" font-size="8.0" text-anchor="end" >40</text>
<text transform="translate(496.4 168.8) scale(1 1.15)" font-size="8.0" text-anchor="middle" >10<tspan dy="-3.4" dx="0.5" font-size="6.0">-1</tspan></text>
<text transform="translate(532.5 168.8) scale(1 1.15)" font-size="8.0" text-anchor="middle" >10<tspan dy="-3.4" dx="0.5" font-size="6.0">0</tspan></text>
<text transform="translate(568.6 168.8) scale(1 1.15)" font-size="8.0" text-anchor="middle" >10<tspan dy="-3.4" dx="0.5" font-size="6.0">1</tspan></text>
<text transform="translate(604.7 168.8) scale(1 1.15)" font-size="8.0" text-anchor="middle" >10<tspan dy="-3.4" dx="0.5" font-size="6.0">2</tspan></text>
<text transform="translate(640.8 168.8) scale(1 1.15)" font-size="8.0" text-anchor="middle" >10<tspan dy="-3.4" dx="0.5" font-size="6.0">3</tspan></text>
<text transform="translate(676.9 168.8) scale(1 1.15)" font-size="8.0" text-anchor="middle" >10<tspan dy="-3.4" dx="0.5" font-size="6.0">4</tspan></text>
<line x1="487.6" y1="65.78" x2="676.5" y2="65.78" stroke="#444" stroke-width="0.9" stroke-dasharray="2,1.5"/>
<text x="466.7" y="85.9" font-size="11.1" text-anchor="middle" transform="rotate(-90 466.7 85.9)">Threshold Voltage Shift (mV nm<tspan dy="-4" font-size="7.2">-1</tspan><tspan dy="4">)</tspan></text>
<text x="534" y="184.3" font-size="11.25" text-anchor="start" >Relaxation Time (s)</text>
<text x="480.8" y="184" font-size="10.6" text-anchor="start" >(e)</text>
<text transform="translate(501.6 25) scale(1 1.15)" font-size="7.9" text-anchor="start" >PBTI, <tspan font-style="italic">t</tspan><tspan dy="1.74" font-size="4.9" dx="-0.3">s</tspan><tspan dy="-1.74" dx="-0.2">=1s</tspan></text>
<text transform="translate(561.4 97.6) scale(1 1.15)" font-size="7.9" text-anchor="start" >Top Gate (Baked), <tspan font-style="italic">V</tspan><tspan dy="1.98" font-size="5.37">G,stress</tspan><tspan dy="-1.98">=2V</tspan></text>
<line x1="563" y1="106.6" x2="580.6" y2="106.6" stroke="#a244e0" stroke-width="1.1" />
<text transform="translate(582.9 109.4) scale(1 1.15)" font-size="7.9" text-anchor="start" >0°C (2<tspan dy="-3" font-size="5.53">nd</tspan><tspan dy="3">)</tspan></text>
<line x1="563" y1="117.4" x2="580.6" y2="117.4" stroke="#2828c8" stroke-width="1.1" />
<text transform="translate(582.9 120.2) scale(1 1.15)" font-size="7.9" text-anchor="start" >25°C (Initial)</text>
<line x1="563" y1="128.2" x2="580.6" y2="128.2" stroke="#ec46c8" stroke-width="1.1" />
<text transform="translate(582.9 131) scale(1 1.15)" font-size="7.9" text-anchor="start" >100°C (3<tspan dy="-3" font-size="5.53">rd</tspan><tspan dy="3">)</tspan></text>
<line x1="563" y1="138.8" x2="580.6" y2="138.8" stroke="#ec2c2c" stroke-width="1.1" />
<text transform="translate(582.9 141.6) scale(1 1.15)" font-size="7.9" text-anchor="start" >125°C (4<tspan dy="-3" font-size="5.53">th</tspan><tspan dy="3">)</tspan></text>
<path d="M495.3,65.8 L496.8,65.8 L498.3,65.8 L499.9,65.8 L501.4,65.8 L502.9,65.8 L504.4,65.8 L505.9,65.8 L507.5,65.8 L509.0,65.8 L510.5,65.8 L512.0,65.8 L513.5,65.8 L515.1,65.8 L516.6,65.8 L518.1,65.9 L519.6,65.9 L521.1,65.9 L522.7,65.9 L524.2,65.9 L525.7,65.9 L527.2,65.9 L528.8,65.9 L530.3,66.0 L531.8,66.0 L533.3,66.0 L534.8,66.0 L536.4,66.0 L537.9,66.0 L539.4,66.0 L540.9,66.1 L542.5,66.1 L544.0,66.1 L545.5,66.1 L547.0,66.1 L548.5,66.1 L550.1,66.2 L551.6,66.2 L553.1,66.2 L554.6,66.2 L556.2,66.2 L557.7,66.2 L559.2,66.2 L560.7,66.2 L562.3,66.3 L563.8,66.3 L565.3,66.3 L566.8,66.3 L568.3,66.3 L569.9,66.3 L571.4,66.3 L572.9,66.3 L574.4,66.3 L576.0,66.3 L577.5,66.3 L579.0,66.3 L580.5,66.3 L582.1,66.3 L583.6,66.3 L585.1,66.3 L586.6,66.3 L588.1,66.3 L589.7,66.3 L591.2,66.3 L592.7,66.3 L594.2,66.3 L595.8,66.3 L597.3,66.3 L598.8,66.2 L600.3,66.2 L601.8,66.2 L603.4,66.2 L604.9,66.2 L606.4,66.1 L607.9,66.1 L609.5,66.1 L611.0,66.1 L612.5,66.0 L614.0,66.0 L615.5,66.0 L617.1,65.9 L618.6,65.9 L620.1,65.8 L621.6,65.8 L623.1,65.7 L624.7,65.7 L626.2,65.6 L627.7,65.6 L629.2,65.5 L630.7,65.5 L632.3,65.4 L633.8,65.3 L635.3,65.3 L636.8,65.2 L638.3,65.1 L639.9,65.0 L641.4,65.0 L642.9,64.9 L644.4,64.8 L645.9,64.7 L647.4,64.6 L649.0,64.5 L650.5,64.4 L652.0,64.3 L653.5,64.2 L655.0,64.1 L656.5,64.0 L658.1,63.9 L659.6,63.8 L661.1,63.7 L662.6,63.5 L664.1,63.4 L665.6,63.3 L667.2,63.1 L668.7,63.0 L670.2,62.9 L671.7,62.7" fill="none" stroke="#a244e0" stroke-width="1.1" stroke-linejoin="round" stroke-linecap="round"/>
<path d="M495.3,72.3 L496.8,72.0 L498.3,71.7 L499.8,71.4 L501.3,71.2 L502.8,70.9 L504.3,70.6 L505.8,70.4 L507.3,70.1 L508.8,69.9 L510.3,69.7 L511.8,69.4 L513.3,69.2 L514.8,69.0 L516.3,68.8 L517.8,68.5 L519.3,68.3 L520.8,68.1 L522.3,67.9 L523.8,67.7 L525.3,67.5 L526.8,67.3 L528.3,67.2 L529.8,67.0 L531.3,66.8 L532.8,66.6 L534.3,66.4 L535.8,66.3 L537.3,66.1 L538.8,65.9 L540.3,65.7 L541.9,65.6 L543.4,65.4 L544.9,65.2 L546.4,65.1 L547.9,64.9 L549.4,64.8 L550.9,64.6 L552.4,64.4 L553.9,64.3 L555.4,64.1 L556.9,64.0 L558.5,63.8 L560.0,63.6 L561.5,63.5 L563.0,63.3 L564.5,63.2 L566.0,63.0 L567.5,62.8 L569.0,62.7 L570.5,62.5 L572.0,62.3 L573.5,62.1 L575.1,62.0 L576.6,61.8 L578.1,61.6 L579.6,61.4 L581.1,61.3 L582.6,61.1 L584.1,60.9 L585.6,60.7 L587.1,60.5 L588.6,60.3 L590.1,60.1 L591.6,59.9 L593.1,59.7 L594.6,59.5 L596.1,59.3 L597.6,59.2 L599.1,59.0 L600.6,58.8 L602.2,58.6 L603.7,58.4 L605.2,58.2 L606.7,58.0 L608.2,57.8 L609.7,57.7 L611.2,57.5 L612.7,57.3 L614.2,57.2 L615.7,57.0 L617.2,56.8 L618.7,56.7 L620.2,56.5 L621.8,56.4 L623.3,56.3 L624.8,56.1 L626.3,56.0 L627.8,55.9 L629.3,55.7 L630.8,55.6 L632.3,55.5 L633.8,55.3 L635.4,55.2 L636.9,55.0 L638.4,54.8 L639.9,54.6 L641.3,54.3 L642.8,54.1 L644.3,53.8 L645.8,53.4 L647.3,53.1 L648.7,52.7 L650.2,52.3 L651.7,52.0 L653.2,51.7 L654.7,51.6 L656.3,51.5 L657.8,51.4 L659.3,51.3 L660.9,51.2 L662.4,51.1 L663.9,50.9 L665.3,50.7 L666.7,50.3 L668.1,49.8 L669.3,49.1 L670.6,48.3 L671.7,47.2" fill="none" stroke="#2828c8" stroke-width="1.1" stroke-linejoin="round" stroke-linecap="round"/>
<path d="M495.5,66.4 L497.0,66.1 L498.5,65.8 L500.0,65.5 L501.4,65.2 L502.9,65.0 L504.4,64.7 L505.9,64.5 L507.4,64.2 L508.9,64.0 L510.4,63.8 L511.9,63.6 L513.4,63.4 L514.9,63.2 L516.4,63.0 L517.9,62.8 L519.4,62.6 L520.9,62.5 L522.4,62.3 L523.9,62.2 L525.4,62.0 L527.0,61.9 L528.5,61.8 L530.0,61.6 L531.5,61.5 L533.0,61.4 L534.5,61.3 L536.0,61.2 L537.5,61.1 L539.1,60.9 L540.6,60.9 L542.1,60.8 L543.6,60.7 L545.1,60.6 L546.6,60.5 L548.2,60.4 L549.7,60.3 L551.2,60.2 L552.7,60.1 L554.2,60.0 L555.7,60.0 L557.3,59.9 L558.8,59.8 L560.3,59.7 L561.8,59.6 L563.3,59.5 L564.8,59.4 L566.4,59.3 L567.9,59.3 L569.4,59.2 L570.9,59.1 L572.4,59.0 L573.9,58.9 L575.4,58.7 L577.0,58.6 L578.5,58.5 L580.0,58.4 L581.5,58.3 L583.0,58.1 L584.5,58.0 L586.0,57.9 L587.5,57.7 L589.0,57.5 L590.5,57.4 L592.0,57.2 L593.5,57.0 L595.0,56.9 L596.5,56.7 L598.0,56.5 L599.5,56.3 L601.0,56.0 L602.5,55.8 L604.0,55.6 L605.5,55.3 L606.9,55.1 L608.4,54.8 L609.9,54.5 L611.4,54.3 L612.9,54.0 L614.3,53.6 L615.8,53.3 L617.3,53.0 L618.8,52.7 L620.2,52.3 L621.7,51.9 L623.2,51.5 L624.6,51.1 L626.1,50.7 L627.5,50.3 L629.0,49.9 L630.4,49.4 L631.9,49.0 L633.3,48.5 L634.8,48.0 L636.2,47.5 L637.6,46.9 L639.1,46.4 L640.5,45.8 L641.9,45.3 L643.4,44.7 L644.8,44.2 L646.2,43.7 L647.7,43.2 L649.1,42.8 L650.6,42.4 L652.1,42.1 L653.5,41.9 L655.0,41.8 L656.5,41.8 L658.1,41.8 L659.5,41.6 L660.9,41.1 L662.2,40.3 L663.5,39.2 L664.7,38.1 L665.8,37.0 L667.0,36.2 L668.2,35.7 L669.4,35.7 L670.5,36.5 L671.7,38.4" fill="none" stroke="#ec46c8" stroke-width="1.1" stroke-linejoin="round" stroke-linecap="round"/>
<path d="M495.5,68.3 L497.0,68.0 L498.5,67.7 L500.0,67.4 L501.5,67.1 L502.9,66.8 L504.4,66.5 L505.9,66.3 L507.4,66.0 L508.9,65.8 L510.4,65.5 L511.9,65.3 L513.4,65.1 L514.9,64.8 L516.5,64.6 L518.0,64.4 L519.5,64.2 L521.0,64.0 L522.5,63.8 L524.0,63.7 L525.5,63.5 L527.0,63.3 L528.5,63.1 L530.1,63.0 L531.6,62.8 L533.1,62.7 L534.6,62.5 L536.1,62.3 L537.7,62.2 L539.2,62.1 L540.7,61.9 L542.2,61.8 L543.7,61.6 L545.3,61.5 L546.8,61.3 L548.3,61.2 L549.8,61.1 L551.3,60.9 L552.9,60.8 L554.4,60.6 L555.9,60.5 L557.4,60.4 L558.9,60.2 L560.5,60.1 L562.0,59.9 L563.5,59.8 L565.0,59.6 L566.5,59.5 L568.0,59.3 L569.5,59.1 L571.1,59.0 L572.6,58.8 L574.1,58.6 L575.6,58.4 L577.1,58.2 L578.6,58.1 L580.1,57.9 L581.6,57.7 L583.1,57.4 L584.6,57.2 L586.1,57.0 L587.6,56.8 L589.1,56.5 L590.6,56.3 L592.1,56.0 L593.6,55.8 L595.1,55.5 L596.6,55.2 L598.1,54.9 L599.6,54.6 L601.0,54.3 L602.5,54.0 L604.0,53.7 L605.5,53.4 L607.0,53.0 L608.4,52.6 L609.9,52.3 L611.4,51.9 L612.8,51.5 L614.3,51.1 L615.7,50.7 L617.2,50.2 L618.6,49.8 L620.1,49.3 L621.5,48.9 L623.0,48.4 L624.4,47.9 L625.9,47.3 L627.3,46.8 L628.7,46.3 L630.2,45.7 L631.6,45.2 L633.0,44.6 L634.4,44.0 L635.9,43.5 L637.3,42.9 L638.7,42.3 L640.1,41.7 L641.6,41.2 L643.0,40.6 L644.4,40.1 L645.8,39.5 L647.3,39.0 L648.7,38.4 L650.1,37.9 L651.6,37.4 L653.0,36.9 L654.4,36.5 L655.9,36.0 L657.3,35.6 L658.8,35.1 L660.2,34.7 L661.7,34.2 L663.1,33.8 L664.6,33.3 L666.0,32.9 L667.4,32.4 L668.9,31.9 L670.3,31.4 L671.7,30.8" fill="none" stroke="#ec2c2c" stroke-width="1.1" stroke-linejoin="round" stroke-linecap="round"/>
<rect x="30.3" y="200.6" width="186.7" height="150.3" fill="none" stroke="#3a3a3a" stroke-width="1.1"/>
<line x1="30.8" y1="350.9" x2="30.8" y2="347.9" stroke="#3a3a3a" stroke-width="0.8" />
<line x1="57.4" y1="350.9" x2="57.4" y2="347.9" stroke="#3a3a3a" stroke-width="0.8" />
<line x1="84" y1="350.9" x2="84" y2="347.9" stroke="#3a3a3a" stroke-width="0.8" />
<line x1="110.6" y1="350.9" x2="110.6" y2="347.9" stroke="#3a3a3a" stroke-width="0.8" />
<line x1="137.2" y1="350.9" x2="137.2" y2="347.9" stroke="#3a3a3a" stroke-width="0.8" />
<line x1="163.8" y1="350.9" x2="163.8" y2="347.9" stroke="#3a3a3a" stroke-width="0.8" />
<line x1="190.4" y1="350.9" x2="190.4" y2="347.9" stroke="#3a3a3a" stroke-width="0.8" />
<line x1="217" y1="350.9" x2="217" y2="347.9" stroke="#3a3a3a" stroke-width="0.8" />
<line x1="44.1" y1="350.9" x2="44.1" y2="349.1" stroke="#3a3a3a" stroke-width="0.8" />
<line x1="70.7" y1="350.9" x2="70.7" y2="349.1" stroke="#3a3a3a" stroke-width="0.8" />
<line x1="97.3" y1="350.9" x2="97.3" y2="349.1" stroke="#3a3a3a" stroke-width="0.8" />
<line x1="123.9" y1="350.9" x2="123.9" y2="349.1" stroke="#3a3a3a" stroke-width="0.8" />
<line x1="150.5" y1="350.9" x2="150.5" y2="349.1" stroke="#3a3a3a" stroke-width="0.8" />
<line x1="177.1" y1="350.9" x2="177.1" y2="349.1" stroke="#3a3a3a" stroke-width="0.8" />
<line x1="203.7" y1="350.9" x2="203.7" y2="349.1" stroke="#3a3a3a" stroke-width="0.8" />
<line x1="30.3" y1="350.9" x2="33.3" y2="350.9" stroke="#3a3a3a" stroke-width="0.8" />
<line x1="30.3" y1="300.8" x2="33.3" y2="300.8" stroke="#3a3a3a" stroke-width="0.8" />
<line x1="30.3" y1="250.7" x2="33.3" y2="250.7" stroke="#3a3a3a" stroke-width="0.8" />
<line x1="30.3" y1="200.6" x2="33.3" y2="200.6" stroke="#3a3a3a" stroke-width="0.8" />
<line x1="30.3" y1="335.82" x2="32.1" y2="335.82" stroke="#3a3a3a" stroke-width="0.8" />
<line x1="30.3" y1="327" x2="32.1" y2="327" stroke="#3a3a3a" stroke-width="0.8" />
<line x1="30.3" y1="320.74" x2="32.1" y2="320.74" stroke="#3a3a3a" stroke-width="0.8" />
<line x1="30.3" y1="315.88" x2="32.1" y2="315.88" stroke="#3a3a3a" stroke-width="0.8" />
<line x1="30.3" y1="311.91" x2="32.1" y2="311.91" stroke="#3a3a3a" stroke-width="0.8" />
<line x1="30.3" y1="308.56" x2="32.1" y2="308.56" stroke="#3a3a3a" stroke-width="0.8" />
<line x1="30.3" y1="305.66" x2="32.1" y2="305.66" stroke="#3a3a3a" stroke-width="0.8" />
<line x1="30.3" y1="303.09" x2="32.1" y2="303.09" stroke="#3a3a3a" stroke-width="0.8" />
<line x1="30.3" y1="285.72" x2="32.1" y2="285.72" stroke="#3a3a3a" stroke-width="0.8" />
<line x1="30.3" y1="276.9" x2="32.1" y2="276.9" stroke="#3a3a3a" stroke-width="0.8" />
<line x1="30.3" y1="270.64" x2="32.1" y2="270.64" stroke="#3a3a3a" stroke-width="0.8" />
<line x1="30.3" y1="265.78" x2="32.1" y2="265.78" stroke="#3a3a3a" stroke-width="0.8" />
<line x1="30.3" y1="261.81" x2="32.1" y2="261.81" stroke="#3a3a3a" stroke-width="0.8" />
<line x1="30.3" y1="258.46" x2="32.1" y2="258.46" stroke="#3a3a3a" stroke-width="0.8" />
<line x1="30.3" y1="255.56" x2="32.1" y2="255.56" stroke="#3a3a3a" stroke-width="0.8" />
<line x1="30.3" y1="252.99" x2="32.1" y2="252.99" stroke="#3a3a3a" stroke-width="0.8" />
<line x1="30.3" y1="235.62" x2="32.1" y2="235.62" stroke="#3a3a3a" stroke-width="0.8" />
<line x1="30.3" y1="226.8" x2="32.1" y2="226.8" stroke="#3a3a3a" stroke-width="0.8" />
<line x1="30.3" y1="220.54" x2="32.1" y2="220.54" stroke="#3a3a3a" stroke-width="0.8" />
<line x1="30.3" y1="215.68" x2="32.1" y2="215.68" stroke="#3a3a3a" stroke-width="0.8" />
<line x1="30.3" y1="211.71" x2="32.1" y2="211.71" stroke="#3a3a3a" stroke-width="0.8" />
<line x1="30.3" y1="208.36" x2="32.1" y2="208.36" stroke="#3a3a3a" stroke-width="0.8" />
<line x1="30.3" y1="205.46" x2="32.1" y2="205.46" stroke="#3a3a3a" stroke-width="0.8" />
<line x1="30.3" y1="202.89" x2="32.1" y2="202.89" stroke="#3a3a3a" stroke-width="0.8" />
<text transform="translate(30.8 361.1) scale(1 1.15)" font-size="8.0" text-anchor="middle" >-2.5</text>
<text transform="translate(57.4 361.1) scale(1 1.15)" font-size="8.0" text-anchor="middle" >-2</text>
<text transform="translate(84 361.1) scale(1 1.15)" font-size="8.0" text-anchor="middle" >-1.5</text>
<text transform="translate(110.6 361.1) scale(1 1.15)" font-size="8.0" text-anchor="middle" >-1</text>
<text transform="translate(137.2 361.1) scale(1 1.15)" font-size="8.0" text-anchor="middle" >-0.5</text>
<text transform="translate(163.8 361.1) scale(1 1.15)" font-size="8.0" text-anchor="middle" >0</text>
<text transform="translate(190.4 361.1) scale(1 1.15)" font-size="8.0" text-anchor="middle" >0.5</text>
<text transform="translate(217 361.1) scale(1 1.15)" font-size="8.0" text-anchor="middle" >1</text>
<text transform="translate(27.3 353.9) scale(1 1.15)" font-size="8.0" text-anchor="end" >10<tspan dy="-2.8" dx="0.4" font-size="5.0">-3</tspan></text>
<text transform="translate(27.3 303.8) scale(1 1.15)" font-size="8.0" text-anchor="end" >10<tspan dy="-2.8" dx="0.4" font-size="5.0">-2</tspan></text>
<text transform="translate(27.3 253.7) scale(1 1.15)" font-size="8.0" text-anchor="end" >10<tspan dy="-2.8" dx="0.4" font-size="5.0">-1</tspan></text>
<text transform="translate(27.3 203.6) scale(1 1.15)" font-size="8.0" text-anchor="end" >10<tspan dy="-2.8" dx="0.4" font-size="5.0">0</tspan></text>
<text x="9.1" y="275.3" font-size="11" text-anchor="middle" transform="rotate(-90 9.1 275.3)">Drain Current (μA)</text>
<text x="84" y="375.8" font-size="11.25" text-anchor="start" >Gate Voltage(V)</text>
<text x="11.4" y="377" font-size="10.6" text-anchor="start" >(c)</text>
<path d="M30.3,229 C32.58,228.13 37.7,226 44,223.8 C50.3,221.6 60.08,217.98 68.1,215.8 C76.12,213.62 86.78,211.73 92.1,210.7 C97.42,209.67 95.45,210.08 100,209.6 C104.55,209.12 113.32,208.32 119.4,207.8 C125.48,207.28 127.57,207.12 136.5,206.5 C145.43,205.88 159.58,204.95 173,204.1 C186.42,203.25 209.67,201.85 217,201.4" fill="none" stroke="#ec2c2c" stroke-width="1.1" stroke-linejoin="round" stroke-linecap="round"/>
<path d="M30.3,254.6 L31.7,254.1 L33.2,253.6 L34.7,253.2 L36.1,252.8 L37.6,252.4 L39.0,251.9 L40.5,251.5 L41.9,251.0 L43.2,250.4 L44.5,249.8 L45.8,249.0 L47.1,248.3 L48.3,247.4 L49.5,246.6 L50.7,245.7 L52.0,244.8 L53.2,243.9 L54.4,243.1 L55.7,242.2 L56.9,241.4 L58.2,240.6 L59.4,239.7 L60.7,238.9 L62.0,238.1 L63.3,237.3 L64.6,236.5 L65.9,235.8 L67.2,235.0 L68.5,234.3 L69.8,233.5 L71.1,232.8 L72.5,232.1 L73.8,231.4 L75.1,230.7 L76.5,230.0 L77.8,229.3 L79.2,228.7 L80.6,228.0 L81.9,227.4 L83.3,226.8 L84.7,226.2 L86.1,225.6 L87.5,225.0 L88.9,224.5 L90.3,223.9 L91.7,223.4 L93.1,222.9 L94.5,222.4 L95.9,221.9 L97.4,221.4 L98.8,221.0 L100.2,220.5 L101.7,220.1 L103.1,219.6 L104.5,219.2 L106.0,218.8 L107.4,218.4 L108.9,218.0 L110.4,217.6 L111.8,217.3 L113.3,216.9 L114.7,216.6 L116.2,216.3 L117.7,215.9 L119.2,215.6 L120.6,215.3 L122.1,215.0 L123.6,214.7 L125.1,214.4 L126.6,214.2 L128.1,213.9 L129.6,213.7 L131.1,213.4 L132.6,213.2 L134.1,212.9 L135.6,212.7 L137.1,212.5 L138.6,212.3 L140.1,212.1 L141.6,211.9 L143.1,211.7 L144.6,211.5 L146.1,211.3 L147.6,211.2 L149.1,211.0 L150.7,210.8 L152.2,210.7 L153.7,210.5 L155.2,210.4 L156.7,210.2 L158.2,210.1 L159.8,210.0 L161.3,209.8 L162.8,209.7 L164.3,209.6 L165.8,209.4 L167.4,209.3 L168.9,209.2 L170.4,209.1 L171.9,209.0 L173.4,208.9 L175.0,208.8 L176.5,208.6 L178.0,208.5 L179.5,208.4 L181.0,208.3 L182.6,208.2 L184.1,208.1 L185.6,208.0 L187.1,207.9 L188.6,207.8 L190.1,207.7 L191.6,207.6 L193.1,207.5 L194.6,207.4 L196.1,207.3 L197.7,207.2 L199.2,207.1 L200.7,207.0 L202.2,206.9 L203.6,206.8 L205.1,206.6 L206.6,206.5 L208.1,206.4 L209.6,206.3 L211.1,206.1 L212.6,206.0 L214.0,205.9 L215.5,205.7 L217.0,205.6" fill="none" stroke="#ec46c8" stroke-width="1.1" stroke-linejoin="round" stroke-linecap="round"/>
<path d="M30.3,323.8 C30.75,323.87 31.8,324.4 33,324.2 C34.2,324 35.9,323.15 37.5,322.6 C39.1,322.05 41.27,320.75 42.6,320.9 C43.93,321.05 44.52,323.8 45.5,323.5 C46.48,323.2 47.4,318.8 48.5,319.1 C49.6,319.4 50.88,324.77 52.1,325.3 C53.32,325.83 54.63,322.8 55.8,322.3 C56.97,321.8 58.35,324.02 59.1,322.3 C59.85,320.58 59.85,315.72 60.3,312 C60.75,308.28 61.27,303.67 61.8,300 C62.33,296.33 62.87,292.82 63.5,290 C64.13,287.18 64.5,285.52 65.6,283.1 C66.7,280.68 68.08,278.78 70.1,275.5 C72.12,272.22 75.17,267.68 77.7,263.4 C80.23,259.12 82.78,253.45 85.3,249.8 C87.82,246.15 90.28,243.9 92.8,241.5 C95.32,239.1 97.12,237.67 100.4,235.4 C103.68,233.13 108.22,229.92 112.5,227.9 C116.78,225.88 120.82,224.82 126.1,223.3 C131.38,221.78 136.38,220.32 144.2,218.8 C152.02,217.28 160.87,215.73 173,214.2 C185.13,212.67 209.67,210.37 217,209.6" fill="none" stroke="#2828c8" stroke-width="1.1" stroke-linejoin="round" stroke-linecap="round"/>
<path d="M30.3,336.9 C31.02,336.53 33.28,334.57 34.6,334.7 C35.92,334.83 37.23,335.5 38.2,337.7 C39.17,339.9 39.53,347.05 40.4,347.9 C41.27,348.75 42.42,342.92 43.4,342.8 C44.38,342.68 45.08,347.08 46.3,347.2 C47.52,347.32 49,344.97 50.7,343.5 C52.4,342.03 54.93,340.47 56.5,338.4 C58.07,336.33 58.88,334.5 60.1,331.1 C61.32,327.7 62.7,322.13 63.8,318 C64.9,313.87 65.95,309.3 66.7,306.3 C67.45,303.3 67.48,303.37 68.3,300 C69.12,296.63 70.03,290.18 71.6,286.1 C73.17,282.02 75.42,279.78 77.7,275.5 C79.98,271.22 82.78,264.68 85.3,260.4 C87.82,256.12 90.28,252.7 92.8,249.8 C95.32,246.9 97.12,245.52 100.4,243 C103.68,240.48 108.47,236.97 112.5,234.7 C116.53,232.43 121.83,230.67 124.6,229.4 C127.37,228.13 127.85,228.12 129.1,227.1 C130.35,226.08 129.58,224.32 132.1,223.3 C134.62,222.28 137.38,222.32 144.2,221 C151.02,219.68 160.87,217.15 173,215.4 C185.13,213.65 209.67,211.32 217,210.5" fill="none" stroke="#44d4c4" stroke-width="1.1" stroke-linejoin="round" stroke-linecap="round"/>
<text transform="translate(103.3 286.2) scale(1 1.15)" font-size="7.9" text-anchor="start" >Back Gate (Baked), <tspan font-style="italic">T</tspan>=25°C</text>
<line x1="104.1" y1="299.5" x2="122.5" y2="299.5" stroke="#44d4c4" stroke-width="1.1" />
<text transform="translate(124.6 302.3) scale(1 1.15)" font-size="7.9" text-anchor="start" >Fresh</text>
<line x1="104.1" y1="309.2" x2="122.5" y2="309.2" stroke="#2828c8" stroke-width="1.1" />
<text transform="translate(124.6 312) scale(1 1.15)" font-size="7.9" text-anchor="start" ><tspan font-style="italic">t</tspan><tspan dy="1.74" font-size="4.9" dx="-0.3">s</tspan><tspan dy="-1.74" dx="-0.2">=1s</tspan></text>
<line x1="104.1" y1="320.6" x2="122.5" y2="320.6" stroke="#ec46c8" stroke-width="1.1" />
<text transform="translate(124.6 323.4) scale(1 1.15)" font-size="7.9" text-anchor="start" ><tspan font-style="italic">t</tspan><tspan dy="1.74" font-size="4.9" dx="-0.3">s</tspan><tspan dy="-1.74" dx="-0.2">=1ks</tspan></text>
<line x1="104.1" y1="331.4" x2="122.5" y2="331.4" stroke="#ec2c2c" stroke-width="1.1" />
<text transform="translate(124.6 334.2) scale(1 1.15)" font-size="7.9" text-anchor="start" ><tspan font-style="italic">t</tspan><tspan dy="1.74" font-size="4.9" dx="-0.3">s</tspan><tspan dy="-1.74" dx="-0.2">=10ks</tspan></text>
<text transform="translate(45.6 232.5) scale(1 1.15)" font-size="7.9" text-anchor="start" ><tspan font-style="italic" font-size="8.8">V</tspan><tspan dy="1.8" font-size="5.6">TH</tspan></text>
<line x1="60" y1="237.7" x2="105.7" y2="237.7" stroke="#222" stroke-width="0.8" stroke-dasharray="2.2,1.4"/>
<path d="M56.5,237.7 L61,235.9 L61,239.5 Z" fill="#222"/>
<rect x="257.5" y="200.4" width="187.3" height="150.6" fill="none" stroke="#3a3a3a" stroke-width="1.1"/>
<line x1="267.5" y1="351" x2="267.5" y2="348" stroke="#3a3a3a" stroke-width="0.8" />
<line x1="300.8" y1="351" x2="300.8" y2="348" stroke="#3a3a3a" stroke-width="0.8" />
<line x1="334.1" y1="351" x2="334.1" y2="348" stroke="#3a3a3a" stroke-width="0.8" />
<line x1="367.4" y1="351" x2="367.4" y2="348" stroke="#3a3a3a" stroke-width="0.8" />
<line x1="400.7" y1="351" x2="400.7" y2="348" stroke="#3a3a3a" stroke-width="0.8" />
<line x1="434" y1="351" x2="434" y2="348" stroke="#3a3a3a" stroke-width="0.8" />
<line x1="260.11" y1="351" x2="260.11" y2="349.2" stroke="#3a3a3a" stroke-width="0.8" />
<line x1="262.34" y1="351" x2="262.34" y2="349.2" stroke="#3a3a3a" stroke-width="0.8" />
<line x1="264.27" y1="351" x2="264.27" y2="349.2" stroke="#3a3a3a" stroke-width="0.8" />
<line x1="265.98" y1="351" x2="265.98" y2="349.2" stroke="#3a3a3a" stroke-width="0.8" />
<line x1="277.52" y1="351" x2="277.52" y2="349.2" stroke="#3a3a3a" stroke-width="0.8" />
<line x1="283.39" y1="351" x2="283.39" y2="349.2" stroke="#3a3a3a" stroke-width="0.8" />
<line x1="287.55" y1="351" x2="287.55" y2="349.2" stroke="#3a3a3a" stroke-width="0.8" />
<line x1="290.78" y1="351" x2="290.78" y2="349.2" stroke="#3a3a3a" stroke-width="0.8" />
<line x1="293.41" y1="351" x2="293.41" y2="349.2" stroke="#3a3a3a" stroke-width="0.8" />
<line x1="295.64" y1="351" x2="295.64" y2="349.2" stroke="#3a3a3a" stroke-width="0.8" />
<line x1="297.57" y1="351" x2="297.57" y2="349.2" stroke="#3a3a3a" stroke-width="0.8" />
<line x1="299.28" y1="351" x2="299.28" y2="349.2" stroke="#3a3a3a" stroke-width="0.8" />
<line x1="310.82" y1="351" x2="310.82" y2="349.2" stroke="#3a3a3a" stroke-width="0.8" />
<line x1="316.69" y1="351" x2="316.69" y2="349.2" stroke="#3a3a3a" stroke-width="0.8" />
<line x1="320.85" y1="351" x2="320.85" y2="349.2" stroke="#3a3a3a" stroke-width="0.8" />
<line x1="324.08" y1="351" x2="324.08" y2="349.2" stroke="#3a3a3a" stroke-width="0.8" />
<line x1="326.71" y1="351" x2="326.71" y2="349.2" stroke="#3a3a3a" stroke-width="0.8" />
<line x1="328.94" y1="351" x2="328.94" y2="349.2" stroke="#3a3a3a" stroke-width="0.8" />
<line x1="330.87" y1="351" x2="330.87" y2="349.2" stroke="#3a3a3a" stroke-width="0.8" />
<line x1="332.58" y1="351" x2="332.58" y2="349.2" stroke="#3a3a3a" stroke-width="0.8" />
<line x1="344.12" y1="351" x2="344.12" y2="349.2" stroke="#3a3a3a" stroke-width="0.8" />
<line x1="349.99" y1="351" x2="349.99" y2="349.2" stroke="#3a3a3a" stroke-width="0.8" />
<line x1="354.15" y1="351" x2="354.15" y2="349.2" stroke="#3a3a3a" stroke-width="0.8" />
<line x1="357.38" y1="351" x2="357.38" y2="349.2" stroke="#3a3a3a" stroke-width="0.8" />
<line x1="360.01" y1="351" x2="360.01" y2="349.2" stroke="#3a3a3a" stroke-width="0.8" />
<line x1="362.24" y1="351" x2="362.24" y2="349.2" stroke="#3a3a3a" stroke-width="0.8" />
<line x1="364.17" y1="351" x2="364.17" y2="349.2" stroke="#3a3a3a" stroke-width="0.8" />
<line x1="365.88" y1="351" x2="365.88" y2="349.2" stroke="#3a3a3a" stroke-width="0.8" />
<line x1="377.42" y1="351" x2="377.42" y2="349.2" stroke="#3a3a3a" stroke-width="0.8" />
<line x1="383.29" y1="351" x2="383.29" y2="349.2" stroke="#3a3a3a" stroke-width="0.8" />
<line x1="387.45" y1="351" x2="387.45" y2="349.2" stroke="#3a3a3a" stroke-width="0.8" />
<line x1="390.68" y1="351" x2="390.68" y2="349.2" stroke="#3a3a3a" stroke-width="0.8" />
<line x1="393.31" y1="351" x2="393.31" y2="349.2" stroke="#3a3a3a" stroke-width="0.8" />
<line x1="395.54" y1="351" x2="395.54" y2="349.2" stroke="#3a3a3a" stroke-width="0.8" />
<line x1="397.47" y1="351" x2="397.47" y2="349.2" stroke="#3a3a3a" stroke-width="0.8" />
<line x1="399.18" y1="351" x2="399.18" y2="349.2" stroke="#3a3a3a" stroke-width="0.8" />
<line x1="410.72" y1="351" x2="410.72" y2="349.2" stroke="#3a3a3a" stroke-width="0.8" />
<line x1="416.59" y1="351" x2="416.59" y2="349.2" stroke="#3a3a3a" stroke-width="0.8" />
<line x1="420.75" y1="351" x2="420.75" y2="349.2" stroke="#3a3a3a" stroke-width="0.8" />
<line x1="423.98" y1="351" x2="423.98" y2="349.2" stroke="#3a3a3a" stroke-width="0.8" />
<line x1="426.61" y1="351" x2="426.61" y2="349.2" stroke="#3a3a3a" stroke-width="0.8" />
<line x1="428.84" y1="351" x2="428.84" y2="349.2" stroke="#3a3a3a" stroke-width="0.8" />
<line x1="430.77" y1="351" x2="430.77" y2="349.2" stroke="#3a3a3a" stroke-width="0.8" />
<line x1="432.48" y1="351" x2="432.48" y2="349.2" stroke="#3a3a3a" stroke-width="0.8" />
<line x1="257.5" y1="340.96" x2="260.5" y2="340.96" stroke="#3a3a3a" stroke-width="0.8" />
<line x1="257.5" y1="320.88" x2="260.5" y2="320.88" stroke="#3a3a3a" stroke-width="0.8" />
<line x1="257.5" y1="300.8" x2="260.5" y2="300.8" stroke="#3a3a3a" stroke-width="0.8" />
<line x1="257.5" y1="280.72" x2="260.5" y2="280.72" stroke="#3a3a3a" stroke-width="0.8" />
<line x1="257.5" y1="260.64" x2="260.5" y2="260.64" stroke="#3a3a3a" stroke-width="0.8" />
<line x1="257.5" y1="240.56" x2="260.5" y2="240.56" stroke="#3a3a3a" stroke-width="0.8" />
<line x1="257.5" y1="220.48" x2="260.5" y2="220.48" stroke="#3a3a3a" stroke-width="0.8" />
<line x1="257.5" y1="200.4" x2="260.5" y2="200.4" stroke="#3a3a3a" stroke-width="0.8" />
<line x1="257.5" y1="330.92" x2="259.3" y2="330.92" stroke="#3a3a3a" stroke-width="0.8" />
<line x1="257.5" y1="310.84" x2="259.3" y2="310.84" stroke="#3a3a3a" stroke-width="0.8" />
<line x1="257.5" y1="290.76" x2="259.3" y2="290.76" stroke="#3a3a3a" stroke-width="0.8" />
<line x1="257.5" y1="270.68" x2="259.3" y2="270.68" stroke="#3a3a3a" stroke-width="0.8" />
<line x1="257.5" y1="250.6" x2="259.3" y2="250.6" stroke="#3a3a3a" stroke-width="0.8" />
<line x1="257.5" y1="230.52" x2="259.3" y2="230.52" stroke="#3a3a3a" stroke-width="0.8" />
<line x1="257.5" y1="210.44" x2="259.3" y2="210.44" stroke="#3a3a3a" stroke-width="0.8" />
<text transform="translate(254.1 343.76) scale(1 1.15)" font-size="8.0" text-anchor="end" >-80</text>
<text transform="translate(254.1 323.68) scale(1 1.15)" font-size="8.0" text-anchor="end" >-60</text>
<text transform="translate(254.1 303.6) scale(1 1.15)" font-size="8.0" text-anchor="end" >-40</text>
<text transform="translate(254.1 283.52) scale(1 1.15)" font-size="8.0" text-anchor="end" >-20</text>
<text transform="translate(254.1 263.44) scale(1 1.15)" font-size="8.0" text-anchor="end" >0</text>
<text transform="translate(254.1 243.36) scale(1 1.15)" font-size="8.0" text-anchor="end" >20</text>
<text transform="translate(254.1 223.28) scale(1 1.15)" font-size="8.0" text-anchor="end" >40</text>
<text transform="translate(254.1 203.2) scale(1 1.15)" font-size="8.0" text-anchor="end" >60</text>
<text transform="translate(268 362.6) scale(1 1.15)" font-size="8.0" text-anchor="middle" >10<tspan dy="-3.4" dx="0.5" font-size="6.0">-1</tspan></text>
<text transform="translate(301.3 362.6) scale(1 1.15)" font-size="8.0" text-anchor="middle" >10<tspan dy="-3.4" dx="0.5" font-size="6.0">0</tspan></text>
<text transform="translate(334.6 362.6) scale(1 1.15)" font-size="8.0" text-anchor="middle" >10<tspan dy="-3.4" dx="0.5" font-size="6.0">1</tspan></text>
<text transform="translate(367.9 362.6) scale(1 1.15)" font-size="8.0" text-anchor="middle" >10<tspan dy="-3.4" dx="0.5" font-size="6.0">2</tspan></text>
<text transform="translate(401.2 362.6) scale(1 1.15)" font-size="8.0" text-anchor="middle" >10<tspan dy="-3.4" dx="0.5" font-size="6.0">3</tspan></text>
<text transform="translate(434.5 362.6) scale(1 1.15)" font-size="8.0" text-anchor="middle" >10<tspan dy="-3.4" dx="0.5" font-size="6.0">4</tspan></text>
<line x1="257.5" y1="260.64" x2="444.8" y2="260.64" stroke="#222" stroke-width="0.9" stroke-dasharray="2.2,1.3"/>
<text x="237.8" y="275.8" font-size="11.1" text-anchor="middle" transform="rotate(-90 237.8 275.8)">Threshold Voltage Shift (mV nm<tspan dy="-4" font-size="7.2">-1</tspan><tspan dy="4">)</tspan></text>
<text x="303" y="377.5" font-size="11.25" text-anchor="start" >Relaxation Time (s)</text>
<text x="251" y="377.5" font-size="10.6" text-anchor="start" >(d)</text>
<text transform="translate(418.5 245.1) scale(1 1.15)" font-size="7.9" text-anchor="start" >PBTI</text>
<text transform="translate(290.7 339.3) scale(1 1.15)" font-size="7.9" text-anchor="start" >Back Gate (Baked), <tspan font-style="italic">V</tspan><tspan dy="1.98" font-size="5.37">G,stress</tspan><tspan dy="-1.98">=2V</tspan>, <tspan font-style="italic">T</tspan>=25°C</text>
<line x1="272.9" y1="218.3" x2="289.6" y2="218.3" stroke="#2828c8" stroke-width="1.1" />
<text transform="translate(292 221.1) scale(1 1.15)" font-size="7.9" text-anchor="start" ><tspan font-style="italic">t</tspan><tspan dy="1.74" font-size="4.9" dx="-0.3">s</tspan><tspan dy="-1.74" dx="-0.2">=1s</tspan></text>
<line x1="272.9" y1="229.7" x2="289.6" y2="229.7" stroke="#ec46c8" stroke-width="1.1" />
<text transform="translate(292 232.5) scale(1 1.15)" font-size="7.9" text-anchor="start" ><tspan font-style="italic">t</tspan><tspan dy="1.74" font-size="4.9" dx="-0.3">s</tspan><tspan dy="-1.74" dx="-0.2">=1ks</tspan></text>
<line x1="272.9" y1="241.1" x2="289.6" y2="241.1" stroke="#ec2c2c" stroke-width="1.1" />
<text transform="translate(292 243.9) scale(1 1.15)" font-size="7.9" text-anchor="start" ><tspan font-style="italic">t</tspan><tspan dy="1.74" font-size="4.9" dx="-0.3">s</tspan><tspan dy="-1.74" dx="-0.2">=10ks</tspan></text>
<path d="M267.5,272.4 L268.9,271.9 L270.3,271.3 L271.8,270.8 L273.2,270.2 L274.6,269.7 L276.0,269.1 L277.4,268.5 L278.8,268.0 L280.2,267.4 L281.6,266.8 L283.0,266.2 L284.4,265.6 L285.8,265.0 L287.2,264.4 L288.6,263.8 L289.9,263.2 L291.3,262.6 L292.7,262.0 L294.1,261.4 L295.5,260.8 L296.9,260.2 L298.3,259.6 L299.7,258.9 L301.1,258.3 L302.4,257.7 L303.8,257.1 L305.2,256.5 L306.6,255.9 L308.0,255.3 L309.4,254.7 L310.8,254.1 L312.2,253.5 L313.6,252.9 L315.0,252.3 L316.4,251.7 L317.8,251.1 L319.2,250.5 L320.6,250.0 L322.0,249.4 L323.4,248.8 L324.8,248.3 L326.2,247.7 L327.6,247.2 L329.0,246.7 L330.4,246.1 L331.8,245.6 L333.3,245.1 L334.7,244.6 L336.1,244.1 L337.6,243.6 L339.0,243.2 L340.4,242.7 L341.9,242.3 L343.3,241.8 L344.8,241.4 L346.2,241.0 L347.7,240.6 L349.1,240.2 L350.6,239.8 L352.1,239.4 L353.5,239.0 L355.0,238.6 L356.5,238.3 L358.0,237.9 L359.4,237.6 L360.9,237.2 L362.4,236.9 L363.9,236.5 L365.4,236.2 L366.9,235.9 L368.3,235.6 L369.8,235.2 L371.3,234.9 L372.8,234.6 L374.3,234.2 L375.8,233.9 L377.3,233.6 L378.8,233.3 L380.2,232.9 L381.7,232.6 L383.2,232.3 L384.7,231.9 L386.2,231.6 L387.6,231.3 L389.1,230.9 L390.6,230.6 L392.1,230.2 L393.6,229.8 L395.0,229.5 L396.5,229.1 L398.0,228.8 L399.4,228.4 L400.9,228.1 L402.4,227.7 L403.9,227.4 L405.3,227.0 L406.8,226.7 L408.3,226.3 L409.8,226.0 L411.2,225.7 L412.7,225.3 L414.2,225.0 L415.7,224.7 L417.1,224.4 L418.6,224.1 L420.1,223.8 L421.6,223.5 L423.0,223.2 L424.5,222.9 L426.0,222.6 L427.5,222.4 L429.0,222.1 L430.5,221.9 L432.0,221.6 L433.4,221.3 L434.6,220.5 L435.5,219.0" fill="none" stroke="#2828c8" stroke-width="1.1" stroke-linejoin="round" stroke-linecap="round"/>
<path d="M267.5,302.9 L268.8,302.0 L270.0,301.2 L271.2,300.3 L272.5,299.5 L273.7,298.6 L275.0,297.7 L276.2,296.9 L277.5,296.0 L278.7,295.1 L280.0,294.3 L281.2,293.4 L282.5,292.6 L283.7,291.7 L285.0,290.8 L286.2,290.0 L287.5,289.1 L288.7,288.3 L290.0,287.4 L291.3,286.6 L292.5,285.7 L293.8,284.9 L295.0,284.0 L296.3,283.2 L297.5,282.3 L298.8,281.5 L300.1,280.6 L301.3,279.8 L302.6,278.9 L303.9,278.1 L305.1,277.3 L306.4,276.4 L307.7,275.6 L308.9,274.8 L310.2,273.9 L311.5,273.1 L312.7,272.3 L314.0,271.4 L315.3,270.6 L316.6,269.8 L317.8,269.0 L319.1,268.2 L320.4,267.4 L321.7,266.5 L323.0,265.7 L324.3,264.9 L325.5,264.1 L326.8,263.3 L328.1,262.5 L329.4,261.7 L330.7,260.9 L332.0,260.1 L333.3,259.4 L334.6,258.6 L335.9,257.8 L337.2,257.0 L338.5,256.2 L339.8,255.5 L341.1,254.7 L342.4,253.9 L343.7,253.2 L345.1,252.4 L346.4,251.7 L347.7,250.9 L349.0,250.2 L350.3,249.4 L351.7,248.7 L353.0,247.9 L354.3,247.2 L355.6,246.5 L357.0,245.8 L358.3,245.0 L359.7,244.3 L361.0,243.6 L362.3,242.9 L363.7,242.2 L365.0,241.5 L366.4,240.8 L367.7,240.1 L369.1,239.4 L370.4,238.8 L371.8,238.1 L373.2,237.4 L374.5,236.7 L375.9,236.1 L377.3,235.4 L378.6,234.8 L380.0,234.1 L381.4,233.5 L382.8,232.8 L384.2,232.2 L385.5,231.6 L386.9,230.9 L388.3,230.3 L389.7,229.7 L391.1,229.1 L392.5,228.5 L393.9,227.9 L395.3,227.3 L396.7,226.7 L398.0,226.1 L399.4,225.5 L400.8,224.9 L402.2,224.3 L403.6,223.7 L405.0,223.2 L406.4,222.6 L407.8,222.0 L409.2,221.4 L410.7,220.9 L412.1,220.3 L413.5,219.7 L414.9,219.2 L416.3,218.6 L417.8,218.2 L419.2,217.9 L420.7,217.8 L422.1,217.9 L423.5,218.0 L424.9,218.0 L426.2,217.5 L427.4,216.8 L428.6,215.9 L429.8,215.0 L431.0,214.0 L432.4,213.3 L433.9,212.8 L435.5,212.7" fill="none" stroke="#ec46c8" stroke-width="1.1" stroke-linejoin="round" stroke-linecap="round"/>
<path d="M267.5,346.9 L268.4,345.7 L269.4,344.4 L270.4,343.2 L271.3,342.0 L272.3,340.8 L273.3,339.7 L274.3,338.5 L275.3,337.4 L276.4,336.2 L277.4,335.1 L278.4,334.0 L279.5,332.9 L280.5,331.8 L281.6,330.7 L282.7,329.7 L283.8,328.6 L284.9,327.5 L286.0,326.5 L287.1,325.5 L288.2,324.4 L289.3,323.4 L290.4,322.4 L291.5,321.4 L292.7,320.4 L293.8,319.4 L294.9,318.4 L296.1,317.4 L297.2,316.5 L298.4,315.5 L299.6,314.5 L300.7,313.6 L301.9,312.6 L303.0,311.6 L304.2,310.7 L305.4,309.8 L306.6,308.8 L307.7,307.9 L308.9,306.9 L310.1,306.0 L311.3,305.0 L312.5,304.1 L313.6,303.2 L314.8,302.2 L316.0,301.3 L317.2,300.4 L318.4,299.4 L319.5,298.5 L320.7,297.5 L321.9,296.6 L323.1,295.7 L324.2,294.7 L325.4,293.8 L326.6,292.8 L327.7,291.8 L328.9,290.9 L330.1,289.9 L331.2,288.9 L332.4,288.0 L333.5,287.0 L334.7,286.0 L335.8,285.0 L336.9,284.0 L338.0,283.0 L339.2,282.0 L340.3,281.0 L341.4,280.0 L342.5,278.9 L343.6,277.9 L344.7,276.8 L345.8,275.8 L346.8,274.7 L347.9,273.6 L349.0,272.5 L350.0,271.4 L351.1,270.4 L352.1,269.3 L353.2,268.2 L354.2,267.1 L355.3,266.0 L356.4,264.9 L357.4,263.8 L358.5,262.8 L359.6,261.7 L360.7,260.7 L361.8,259.7 L362.9,258.6 L364.1,257.7 L365.2,256.7 L366.4,255.7 L367.6,254.8 L368.8,253.9 L370.0,253.0 L371.2,252.1 L372.4,251.2 L373.6,250.3 L374.9,249.5 L376.1,248.7 L377.4,247.9 L378.7,247.1 L380.0,246.3 L381.3,245.5 L382.6,244.8 L383.9,244.0 L385.2,243.3 L386.6,242.6 L387.9,241.9 L389.3,241.2 L390.6,240.5 L392.0,239.8 L393.3,239.1 L394.6,238.4 L396.0,237.7 L397.3,236.9 L398.6,236.2 L399.9,235.4 L401.2,234.6 L402.5,233.8 L403.7,233.0 L405.0,232.1 L406.2,231.3 L407.4,230.4 L408.7,229.5 L409.9,228.7 L411.1,227.7 L412.3,226.8 L413.4,225.9 L414.6,224.9 L415.8,224.0 L416.9,223.0 L418.1,222.0 L419.2,221.0 L420.3,220.0 L421.4,219.0 L422.5,218.0 L423.6,216.9 L424.7,215.9 L425.8,214.9 L426.9,213.9 L428.1,212.9 L429.2,212.0 L430.4,211.1 L431.6,210.2 L432.9,209.4 L434.2,208.7 L435.5,208.0" fill="none" stroke="#ec2c2c" stroke-width="1.1" stroke-linejoin="round" stroke-linecap="round"/>
<rect x="487.7" y="198.6" width="189.6" height="152.6" fill="none" stroke="#3a3a3a" stroke-width="1.1"/>
<line x1="496.2" y1="351.2" x2="496.2" y2="348.2" stroke="#3a3a3a" stroke-width="0.8" />
<line x1="532.4" y1="351.2" x2="532.4" y2="348.2" stroke="#3a3a3a" stroke-width="0.8" />
<line x1="568.6" y1="351.2" x2="568.6" y2="348.2" stroke="#3a3a3a" stroke-width="0.8" />
<line x1="604.8" y1="351.2" x2="604.8" y2="348.2" stroke="#3a3a3a" stroke-width="0.8" />
<line x1="641" y1="351.2" x2="641" y2="348.2" stroke="#3a3a3a" stroke-width="0.8" />
<line x1="677.2" y1="351.2" x2="677.2" y2="348.2" stroke="#3a3a3a" stroke-width="0.8" />
<line x1="488.17" y1="351.2" x2="488.17" y2="349.4" stroke="#3a3a3a" stroke-width="0.8" />
<line x1="490.59" y1="351.2" x2="490.59" y2="349.4" stroke="#3a3a3a" stroke-width="0.8" />
<line x1="492.69" y1="351.2" x2="492.69" y2="349.4" stroke="#3a3a3a" stroke-width="0.8" />
<line x1="494.54" y1="351.2" x2="494.54" y2="349.4" stroke="#3a3a3a" stroke-width="0.8" />
<line x1="507.1" y1="351.2" x2="507.1" y2="349.4" stroke="#3a3a3a" stroke-width="0.8" />
<line x1="513.47" y1="351.2" x2="513.47" y2="349.4" stroke="#3a3a3a" stroke-width="0.8" />
<line x1="517.99" y1="351.2" x2="517.99" y2="349.4" stroke="#3a3a3a" stroke-width="0.8" />
<line x1="521.5" y1="351.2" x2="521.5" y2="349.4" stroke="#3a3a3a" stroke-width="0.8" />
<line x1="524.37" y1="351.2" x2="524.37" y2="349.4" stroke="#3a3a3a" stroke-width="0.8" />
<line x1="526.79" y1="351.2" x2="526.79" y2="349.4" stroke="#3a3a3a" stroke-width="0.8" />
<line x1="528.89" y1="351.2" x2="528.89" y2="349.4" stroke="#3a3a3a" stroke-width="0.8" />
<line x1="530.74" y1="351.2" x2="530.74" y2="349.4" stroke="#3a3a3a" stroke-width="0.8" />
<line x1="543.3" y1="351.2" x2="543.3" y2="349.4" stroke="#3a3a3a" stroke-width="0.8" />
<line x1="549.67" y1="351.2" x2="549.67" y2="349.4" stroke="#3a3a3a" stroke-width="0.8" />
<line x1="554.19" y1="351.2" x2="554.19" y2="349.4" stroke="#3a3a3a" stroke-width="0.8" />
<line x1="557.7" y1="351.2" x2="557.7" y2="349.4" stroke="#3a3a3a" stroke-width="0.8" />
<line x1="560.57" y1="351.2" x2="560.57" y2="349.4" stroke="#3a3a3a" stroke-width="0.8" />
<line x1="562.99" y1="351.2" x2="562.99" y2="349.4" stroke="#3a3a3a" stroke-width="0.8" />
<line x1="565.09" y1="351.2" x2="565.09" y2="349.4" stroke="#3a3a3a" stroke-width="0.8" />
<line x1="566.94" y1="351.2" x2="566.94" y2="349.4" stroke="#3a3a3a" stroke-width="0.8" />
<line x1="579.5" y1="351.2" x2="579.5" y2="349.4" stroke="#3a3a3a" stroke-width="0.8" />
<line x1="585.87" y1="351.2" x2="585.87" y2="349.4" stroke="#3a3a3a" stroke-width="0.8" />
<line x1="590.39" y1="351.2" x2="590.39" y2="349.4" stroke="#3a3a3a" stroke-width="0.8" />
<line x1="593.9" y1="351.2" x2="593.9" y2="349.4" stroke="#3a3a3a" stroke-width="0.8" />
<line x1="596.77" y1="351.2" x2="596.77" y2="349.4" stroke="#3a3a3a" stroke-width="0.8" />
<line x1="599.19" y1="351.2" x2="599.19" y2="349.4" stroke="#3a3a3a" stroke-width="0.8" />
<line x1="601.29" y1="351.2" x2="601.29" y2="349.4" stroke="#3a3a3a" stroke-width="0.8" />
<line x1="603.14" y1="351.2" x2="603.14" y2="349.4" stroke="#3a3a3a" stroke-width="0.8" />
<line x1="615.7" y1="351.2" x2="615.7" y2="349.4" stroke="#3a3a3a" stroke-width="0.8" />
<line x1="622.07" y1="351.2" x2="622.07" y2="349.4" stroke="#3a3a3a" stroke-width="0.8" />
<line x1="626.59" y1="351.2" x2="626.59" y2="349.4" stroke="#3a3a3a" stroke-width="0.8" />
<line x1="630.1" y1="351.2" x2="630.1" y2="349.4" stroke="#3a3a3a" stroke-width="0.8" />
<line x1="632.97" y1="351.2" x2="632.97" y2="349.4" stroke="#3a3a3a" stroke-width="0.8" />
<line x1="635.39" y1="351.2" x2="635.39" y2="349.4" stroke="#3a3a3a" stroke-width="0.8" />
<line x1="637.49" y1="351.2" x2="637.49" y2="349.4" stroke="#3a3a3a" stroke-width="0.8" />
<line x1="639.34" y1="351.2" x2="639.34" y2="349.4" stroke="#3a3a3a" stroke-width="0.8" />
<line x1="651.9" y1="351.2" x2="651.9" y2="349.4" stroke="#3a3a3a" stroke-width="0.8" />
<line x1="658.27" y1="351.2" x2="658.27" y2="349.4" stroke="#3a3a3a" stroke-width="0.8" />
<line x1="662.79" y1="351.2" x2="662.79" y2="349.4" stroke="#3a3a3a" stroke-width="0.8" />
<line x1="666.3" y1="351.2" x2="666.3" y2="349.4" stroke="#3a3a3a" stroke-width="0.8" />
<line x1="669.17" y1="351.2" x2="669.17" y2="349.4" stroke="#3a3a3a" stroke-width="0.8" />
<line x1="671.59" y1="351.2" x2="671.59" y2="349.4" stroke="#3a3a3a" stroke-width="0.8" />
<line x1="673.69" y1="351.2" x2="673.69" y2="349.4" stroke="#3a3a3a" stroke-width="0.8" />
<line x1="675.54" y1="351.2" x2="675.54" y2="349.4" stroke="#3a3a3a" stroke-width="0.8" />
<line x1="487.7" y1="351.2" x2="490.7" y2="351.2" stroke="#3a3a3a" stroke-width="0.8" />
<line x1="487.7" y1="320.68" x2="490.7" y2="320.68" stroke="#3a3a3a" stroke-width="0.8" />
<line x1="487.7" y1="290.16" x2="490.7" y2="290.16" stroke="#3a3a3a" stroke-width="0.8" />
<line x1="487.7" y1="259.64" x2="490.7" y2="259.64" stroke="#3a3a3a" stroke-width="0.8" />
<line x1="487.7" y1="229.12" x2="490.7" y2="229.12" stroke="#3a3a3a" stroke-width="0.8" />
<line x1="487.7" y1="198.6" x2="490.7" y2="198.6" stroke="#3a3a3a" stroke-width="0.8" />
<line x1="487.7" y1="335.94" x2="489.5" y2="335.94" stroke="#3a3a3a" stroke-width="0.8" />
<line x1="487.7" y1="305.42" x2="489.5" y2="305.42" stroke="#3a3a3a" stroke-width="0.8" />
<line x1="487.7" y1="274.9" x2="489.5" y2="274.9" stroke="#3a3a3a" stroke-width="0.8" />
<line x1="487.7" y1="244.38" x2="489.5" y2="244.38" stroke="#3a3a3a" stroke-width="0.8" />
<line x1="487.7" y1="213.86" x2="489.5" y2="213.86" stroke="#3a3a3a" stroke-width="0.8" />
<text transform="translate(484.7 354) scale(1 1.15)" font-size="8.0" text-anchor="end" >-60</text>
<text transform="translate(484.7 323.48) scale(1 1.15)" font-size="8.0" text-anchor="end" >-40</text>
<text transform="translate(484.7 292.96) scale(1 1.15)" font-size="8.0" text-anchor="end" >-20</text>
<text transform="translate(484.7 262.44) scale(1 1.15)" font-size="8.0" text-anchor="end" >0</text>
<text transform="translate(484.7 231.92) scale(1 1.15)" font-size="8.0" text-anchor="end" >20</text>
<text transform="translate(484.7 201.4) scale(1 1.15)" font-size="8.0" text-anchor="end" >40</text>
<text transform="translate(496.5 362.6) scale(1 1.15)" font-size="8.0" text-anchor="middle" >10<tspan dy="-3.4" dx="0.5" font-size="6.0">-1</tspan></text>
<text transform="translate(532.7 362.6) scale(1 1.15)" font-size="8.0" text-anchor="middle" >10<tspan dy="-3.4" dx="0.5" font-size="6.0">0</tspan></text>
<text transform="translate(568.9 362.6) scale(1 1.15)" font-size="8.0" text-anchor="middle" >10<tspan dy="-3.4" dx="0.5" font-size="6.0">1</tspan></text>
<text transform="translate(605.1 362.6) scale(1 1.15)" font-size="8.0" text-anchor="middle" >10<tspan dy="-3.4" dx="0.5" font-size="6.0">2</tspan></text>
<text transform="translate(641.3 362.6) scale(1 1.15)" font-size="8.0" text-anchor="middle" >10<tspan dy="-3.4" dx="0.5" font-size="6.0">3</tspan></text>
<text transform="translate(677.5 362.6) scale(1 1.15)" font-size="8.0" text-anchor="middle" >10<tspan dy="-3.4" dx="0.5" font-size="6.0">4</tspan></text>
<line x1="487.7" y1="259.64" x2="677.3" y2="259.64" stroke="#222" stroke-width="0.9" stroke-dasharray="2.2,1.3"/>
<text x="466.7" y="279.6" font-size="11.1" text-anchor="middle" transform="rotate(-90 466.7 279.6)">Threshold Voltage Shift (mV nm<tspan dy="-4" font-size="7.2">-1</tspan><tspan dy="4">)</tspan></text>
<text x="534.2" y="378.7" font-size="11.25" text-anchor="start" >Relaxation Time (s)</text>
<text x="475.8" y="377.6" font-size="10.6" text-anchor="start" >(f)</text>
<text transform="translate(499.2 217.9) scale(1 1.15)" font-size="7.9" text-anchor="start" >PBTI, <tspan font-style="italic">t</tspan><tspan dy="1.74" font-size="4.9" dx="-0.3">s</tspan><tspan dy="-1.74" dx="-0.2">=10ks</tspan></text>
<text transform="translate(499.8 233.6) scale(1 1.15)" font-size="7.9" text-anchor="start" >Top Gate (Baked), <tspan font-style="italic">V</tspan><tspan dy="1.98" font-size="5.37">G,stress</tspan><tspan dy="-1.98">=2V</tspan></text>
<line x1="602.4" y1="308.9" x2="620.5" y2="308.9" stroke="#a244e0" stroke-width="1.1" />
<text transform="translate(622.7 311.7) scale(1 1.15)" font-size="7.9" text-anchor="start" >0°C (2<tspan dy="-3" font-size="5.53">nd</tspan><tspan dy="3">)</tspan></text>
<line x1="602.4" y1="319.5" x2="620.5" y2="319.5" stroke="#2828c8" stroke-width="1.1" />
<text transform="translate(622.7 322.3) scale(1 1.15)" font-size="7.9" text-anchor="start" >25°C (initial)</text>
<line x1="602.4" y1="330.2" x2="620.5" y2="330.2" stroke="#ec46c8" stroke-width="1.1" />
<text transform="translate(622.7 333) scale(1 1.15)" font-size="7.9" text-anchor="start" >100°C (3<tspan dy="-3" font-size="5.53">rd</tspan><tspan dy="3">)</tspan></text>
<line x1="602.4" y1="341.4" x2="620.5" y2="341.4" stroke="#ec2c2c" stroke-width="1.1" />
<text transform="translate(622.7 344.2) scale(1 1.15)" font-size="7.9" text-anchor="start" >125°C (4<tspan dy="-3" font-size="5.53">th</tspan><tspan dy="3">)</tspan></text>
<path d="M495.8,273.2 C501.5,272.42 518.47,270 530,268.5 C541.53,267 556.25,265.3 565,264.2 C573.75,263.1 576.67,262.38 582.5,261.9 C588.33,261.42 585.05,261.42 600,261.3 C614.95,261.18 660.17,261.22 672.2,261.2" fill="none" stroke="#a244e0" stroke-width="1.1" stroke-linejoin="round" stroke-linecap="round"/>
<path d="M495.8,297.5 C498,296.25 500.53,294.58 509,290 C517.47,285.42 537.25,275.08 546.6,270 C555.95,264.92 559.12,262.52 565.1,259.5 C571.08,256.48 576.68,254.33 582.5,251.9 C588.32,249.47 594.15,247.38 600,244.9 C605.85,242.42 611.77,239.18 617.6,237 C623.43,234.82 629.17,233.55 635,231.8 C640.83,230.05 647.62,227.73 652.6,226.5 C657.58,225.27 661.63,224.75 664.9,224.4 C668.17,224.05 670.98,224.4 672.2,224.4" fill="none" stroke="#2828c8" stroke-width="1.1" stroke-linejoin="round" stroke-linecap="round"/>
<path d="M495.8,307.7 C499,306.38 507.42,302.43 515,299.8 C522.58,297.17 532.53,294.23 541.3,291.9 C550.07,289.57 560.88,287.27 567.6,285.8 C574.32,284.33 577.65,283.93 581.6,283.1 C585.55,282.27 588.23,281.82 591.3,280.8 C594.37,279.78 597.08,278.45 600,277 C602.92,275.55 604.42,274.82 608.8,272.1 C613.18,269.38 620.47,264.2 626.3,260.7 C632.13,257.2 638.53,254.02 643.8,251.1 C649.07,248.18 654.38,244.72 657.9,243.2 C661.42,241.68 662.52,242.65 664.9,242 C667.28,241.35 670.98,239.75 672.2,239.3" fill="none" stroke="#ec46c8" stroke-width="1.1" stroke-linejoin="round" stroke-linecap="round"/>
<path d="M495.8,338.3 C499,336.55 507.42,332.18 515,327.8 C522.58,323.42 534,316.23 541.3,312 C548.6,307.77 553.83,304.73 558.8,302.4 C563.77,300.07 567.88,298.87 571.1,298 C574.32,297.13 575.18,297.55 578.1,297.2 C581.02,296.85 584.95,296.63 588.6,295.9 C592.25,295.17 596.78,293.85 600,292.8 C603.22,291.75 603.52,291.6 607.9,289.6 C612.28,287.6 620.32,284.3 626.3,280.8 C632.28,277.3 639.13,272.1 643.8,268.6 C648.47,265.1 651.37,261.85 654.3,259.8 C657.23,257.75 658.42,257.62 661.4,256.3 C664.38,254.98 670.4,252.63 672.2,251.9" fill="none" stroke="#ec2c2c" stroke-width="1.1" stroke-linejoin="round" stroke-linecap="round"/>
<rect x="216.6" y="391.3" width="309.3" height="151.5" fill="none" stroke="#3a3a3a" stroke-width="1.1"/>
<line x1="216.6" y1="542.8" x2="219.6" y2="542.8" stroke="#3a3a3a" stroke-width="0.8" />
<line x1="216.6" y1="521.12" x2="219.6" y2="521.12" stroke="#3a3a3a" stroke-width="0.8" />
<line x1="216.6" y1="499.43" x2="219.6" y2="499.43" stroke="#3a3a3a" stroke-width="0.8" />
<line x1="216.6" y1="477.74" x2="219.6" y2="477.74" stroke="#3a3a3a" stroke-width="0.8" />
<line x1="216.6" y1="456.06" x2="219.6" y2="456.06" stroke="#3a3a3a" stroke-width="0.8" />
<line x1="216.6" y1="434.37" x2="219.6" y2="434.37" stroke="#3a3a3a" stroke-width="0.8" />
<line x1="216.6" y1="412.69" x2="219.6" y2="412.69" stroke="#3a3a3a" stroke-width="0.8" />
<line x1="216.6" y1="391" x2="219.6" y2="391" stroke="#3a3a3a" stroke-width="0.8" />
<line x1="216.6" y1="531.96" x2="218.4" y2="531.96" stroke="#3a3a3a" stroke-width="0.8" />
<line x1="216.6" y1="510.27" x2="218.4" y2="510.27" stroke="#3a3a3a" stroke-width="0.8" />
<line x1="216.6" y1="488.59" x2="218.4" y2="488.59" stroke="#3a3a3a" stroke-width="0.8" />
<line x1="216.6" y1="466.9" x2="218.4" y2="466.9" stroke="#3a3a3a" stroke-width="0.8" />
<line x1="216.6" y1="445.22" x2="218.4" y2="445.22" stroke="#3a3a3a" stroke-width="0.8" />
<line x1="216.6" y1="423.53" x2="218.4" y2="423.53" stroke="#3a3a3a" stroke-width="0.8" />
<line x1="216.6" y1="401.85" x2="218.4" y2="401.85" stroke="#3a3a3a" stroke-width="0.8" />
<text x="215" y="546.2" font-size="10.9" text-anchor="end" >0</text>
<text x="215" y="524.51" font-size="10.9" text-anchor="end" >50</text>
<text x="215" y="502.83" font-size="10.9" text-anchor="end" >100</text>
<text x="215" y="481.14" font-size="10.9" text-anchor="end" >150</text>
<text x="215" y="459.46" font-size="10.9" text-anchor="end" >200</text>
<text x="215" y="437.77" font-size="10.9" text-anchor="end" >250</text>
<text x="215" y="416.09" font-size="10.9" text-anchor="end" >300</text>
<text x="215" y="394.4" font-size="10.9" text-anchor="end" >350</text>
<text font-size="12.8" text-anchor="middle" transform="translate(188.4 472.6) rotate(-90) scale(1.09 1)">PBTI (mV nm<tspan dy="-4.5" font-size="9">-1</tspan><tspan dy="4.5">)</tspan></text>
<text x="329" y="559.3" font-size="13.3" text-anchor="start" >2D-FET Device</text>
<text x="186.5" y="553.7" font-size="10.5" text-anchor="start" >(g)</text>
<text x="227.8" y="531.2" font-size="9.7" text-anchor="start" >Vacuum</text>
<text transform="translate(395.8 402.7) scale(1 1.15)" font-size="6.74" text-anchor="start" >1.CaF<tspan dy="1.6" font-size="4.6">2</tspan><tspan dy="-1.6">/MoS</tspan><tspan dy="1.6" font-size="4.6">2</tspan><tspan dy="-1.6"> [</tspan><tspan font-style="italic">t</tspan><tspan dy="1.6" font-size="4.6">s</tspan><tspan dy="-1.6">=10 ks, </tspan><tspan font-style="italic">E</tspan>=4 MV/cm]</text>
<text transform="translate(395.8 411.9) scale(1 1.15)" font-size="6.74" text-anchor="start" >2.Al<tspan dy="1.6" font-size="4.6">2</tspan><tspan dy="-1.6">O</tspan><tspan dy="1.6" font-size="4.6">3</tspan><tspan dy="-1.6">/Gr [</tspan><tspan font-style="italic">t</tspan><tspan dy="1.6" font-size="4.6">s</tspan><tspan dy="-1.6">=1 ks, </tspan><tspan font-style="italic">E</tspan>=5.8 MV/cm]</text>
<text transform="translate(395.8 421.8) scale(1 1.15)" font-size="6.74" text-anchor="start" >3.SiO<tspan dy="1.6" font-size="4.6">2</tspan><tspan dy="-1.6">/MoS</tspan><tspan dy="1.6" font-size="4.6">2</tspan><tspan dy="-1.6"> [</tspan><tspan font-style="italic">t</tspan><tspan dy="1.6" font-size="4.6">s</tspan><tspan dy="-1.6">=10 ks, </tspan><tspan font-style="italic">E</tspan>=3.5 MV/cm]</text>
<text transform="translate(395.8 431.2) scale(1 1.15)" font-size="6.74" text-anchor="start" >4.Al<tspan dy="1.6" font-size="4.6">2</tspan><tspan dy="-1.6">O</tspan><tspan dy="1.6" font-size="4.6">3</tspan><tspan dy="-1.6">/Gr [</tspan><tspan font-style="italic">t</tspan><tspan dy="1.6" font-size="4.6">s</tspan><tspan dy="-1.6">=10 ks, </tspan><tspan font-style="italic">E</tspan>=5.8 MV/cm]</text>
<text transform="translate(395.8 440.6) scale(1 1.15)" font-size="6.74" text-anchor="start" >5.HfO<tspan dy="1.6" font-size="4.6">2</tspan><tspan dy="-1.6">/SiO</tspan><tspan dy="1.6" font-size="4.6">2</tspan><tspan dy="-1.6">/Gr [</tspan><tspan font-style="italic">t</tspan><tspan dy="1.6" font-size="4.6">s</tspan><tspan dy="-1.6">=10 ks, </tspan><tspan font-style="italic">E</tspan>=1.4 MV/cm]</text>
<text transform="translate(395.8 450.5) scale(1 1.15)" font-size="6.74" text-anchor="start" >6.SiO<tspan dy="1.6" font-size="4.6">2</tspan><tspan dy="-1.6">/ReS</tspan><tspan dy="1.6" font-size="4.6">2</tspan><tspan dy="-1.6"> [</tspan><tspan font-style="italic">t</tspan><tspan dy="1.6" font-size="4.6">s</tspan><tspan dy="-1.6">=10 ks, </tspan><tspan font-style="italic">E</tspan>=2 MV/cm]</text>
<text transform="translate(395.8 459.7) scale(1 1.15)" font-size="6.74" text-anchor="start" >7.SiO<tspan dy="1.6" font-size="4.6">2</tspan><tspan dy="-1.6">/MoS</tspan><tspan dy="1.6" font-size="4.6">2</tspan><tspan dy="-1.6"> [</tspan><tspan font-style="italic">t</tspan><tspan dy="1.6" font-size="4.6">s</tspan><tspan dy="-1.6">=1.8 ks, </tspan><tspan font-style="italic">E</tspan>=2 MV/cm]</text>
<text transform="translate(395.8 469.3) scale(1 1.15)" font-size="6.74" text-anchor="start" >8.SiO<tspan dy="1.6" font-size="4.6">2</tspan><tspan dy="-1.6">/BP [</tspan><tspan font-style="italic">t</tspan><tspan dy="1.6" font-size="4.6">s</tspan><tspan dy="-1.6">=10 ks, </tspan><tspan font-style="italic">E</tspan>=1.25 MV/cm]</text>
<text transform="translate(395.8 479.3) scale(1 1.15)" font-size="6.74" text-anchor="start" >9.SiO<tspan dy="1.6" font-size="4.6">2</tspan><tspan dy="-1.6">/ReS</tspan><tspan dy="1.6" font-size="4.6">2</tspan><tspan dy="-1.6"> [</tspan><tspan font-style="italic">t</tspan><tspan dy="1.6" font-size="4.6">s</tspan><tspan dy="-1.6">=10 ks, </tspan><tspan font-style="italic">E</tspan>=2 MV/cm]*</text>
<text transform="translate(395.8 489.1) scale(1 1.15)" font-size="6.74" text-anchor="start" >10.STO /MoS<tspan dy="1.6" font-size="4.6">2</tspan><tspan dy="-1.6"> [</tspan><tspan font-style="italic">t</tspan><tspan dy="1.6" font-size="4.6">s</tspan><tspan dy="-1.6">=10 ks, </tspan><tspan font-style="italic">E</tspan>=4 MV/cm]</text>
<text transform="translate(395.8 499.3) scale(1 1.15)" font-size="6.74" text-anchor="start" font-weight="bold">11.This work [<tspan font-style="italic">t</tspan><tspan dy="1.6" font-size="4.6">s</tspan><tspan dy="-1.6">=10 ks, </tspan><tspan font-style="italic">E</tspan>=2.5 MV/cm]</text>
<text transform="translate(395.8 509) scale(1 1.15)" font-size="6.74" text-anchor="start" font-weight="bold">12.This work [<tspan font-style="italic">t</tspan><tspan dy="1.6" font-size="4.6">s</tspan><tspan dy="-1.6">=1 ks, </tspan><tspan font-style="italic">E</tspan>=2.5 MV/cm]</text>
<path d="M235.05,406.6 L245.55,406.6 L240.3,415.2 Z" fill="#f01818"/>
<rect x="260.4" y="443.8" width="7.8" height="7.8" fill="#f048c8"/>
<circle cx="288" cy="478" r="4.8" fill="#ec5a68"/>
<polygon points="317.5,495.3 311.9,500.9 306.3,495.3 311.9,489.7" fill="#d8a030"/>
<path d="M330.6,513.3 L341,513.3 L335.8,521.5 Z" fill="#e6ec60"/>
<polygon points="359.4,532.8 355.16,530.35 355.16,525.45 359.4,523 363.64,525.45 363.64,530.35" fill="#5aaa2a"/>
<polygon points="383.1,523.6 387.86,527.05 386.04,532.65 380.16,532.65 378.34,527.05" fill="#c4f6e4"/>
<rect x="403.1" y="525.1" width="7.8" height="7.8" fill="#58d4c8"/>
<circle cx="430.8" cy="530.7" r="4.4" fill="#48a8f0"/>
<polygon points="460,532.2 454.5,537.7 449,532.2 454.5,526.7" fill="#6878ee"/>
<polygon points="478.1,527.5 479.39,530.92 483.05,531.09 480.19,533.38 481.16,536.91 478.1,534.9 475.04,536.91 476.01,533.38 473.15,531.09 476.81,530.92" fill="#2828f0"/>
<polygon points="502.2,531 503.49,534.42 507.15,534.59 504.29,536.88 505.26,540.41 502.2,538.4 499.14,540.41 500.11,536.88 497.25,534.59 500.91,534.42" fill="#a830e0"/>
<text x="252.2" y="407.2" font-size="9.2" text-anchor="middle" >1</text>
<text x="269.1" y="442" font-size="9.2" text-anchor="middle" >2</text>
<text x="289.8" y="472.4" font-size="9.2" text-anchor="middle" >3</text>
<text x="318.6" y="489.8" font-size="9.2" text-anchor="middle" >4</text>
<text x="337.5" y="510.8" font-size="9.2" text-anchor="middle" >5</text>
<text x="359.2" y="520.8" font-size="9.2" text-anchor="middle" >6</text>
<text x="382" y="523" font-size="9.2" text-anchor="middle" >7</text>
<text x="407" y="524.5" font-size="9.2" text-anchor="middle" >8</text>
<text x="431" y="525.6" font-size="9.2" text-anchor="middle" >9</text>
<text x="454.3" y="526.7" font-size="9.2" text-anchor="middle" >10</text>
<text x="477.7" y="527.4" font-size="9.2" text-anchor="middle" font-weight="bold">11</text>
<text x="501.6" y="531.2" font-size="9.2" text-anchor="middle" font-weight="bold">12</text>
</svg>
</body></html>
